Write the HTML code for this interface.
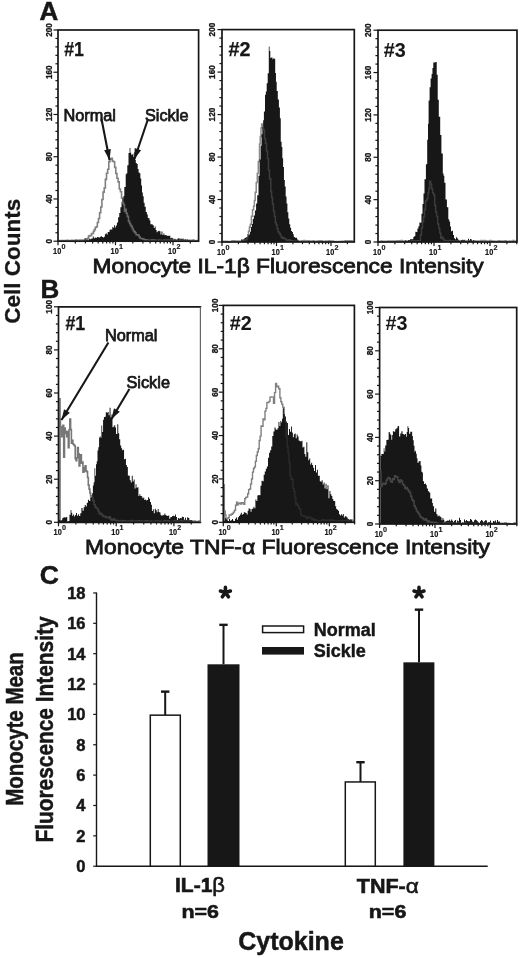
<!DOCTYPE html>
<html><head><meta charset="utf-8"><style>
html,body{margin:0;padding:0;background:#fff;}
body{width:520px;height:958px;overflow:hidden;font-family:"Liberation Sans",sans-serif;}
svg{display:block;filter:grayscale(1);}
</style></head><body>
<svg width="520" height="958" viewBox="0 0 520 958">
<rect width="520" height="958" fill="#fff"/>
<clipPath id="c1"><path d="M84.60,241.2V238.03H85.62V239.94H86.64V239.50H87.67V240.50H88.69V238.78H89.71V239.35H90.73V238.72H91.76V238.60H92.78V236.42H93.80V238.29H94.82V237.52H95.84V237.93H96.87V236.95H97.89V237.33H98.91V237.62H99.93V236.82H100.96V236.34H101.98V237.00H103.00V237.57H103.94V236.63H104.88V234.22H105.82V233.35H106.76V234.61H107.70V232.04H108.62V231.95H109.54V229.77H110.46V229.58H111.38V229.60H112.30V227.04H113.17V227.67H114.05V225.23H114.92V227.43H115.80V225.41H116.95V222.44H118.10V217.29H119.25V212.95H120.40V207.17H121.55V201.92H122.70V198.04H123.50V195.96H124.30V186.93H125.70V174.28H126.50V173.20H127.30V165.24H128.50V153.11H129.60V147.92H130.40V152.83H131.20V154.75H132.60V153.86H133.40V157.12H134.20V152.16H135.00V159.82H135.80V162.89H136.75V164.10H137.70V169.11H138.60V172.53H139.50V173.34H140.35V178.56H141.20V185.56H142.00V192.57H142.80V196.29H143.70V202.83H144.60V206.69H145.75V212.11H146.90V214.42H147.78V217.88H148.65V218.23H149.53V220.48H150.40V224.16H151.53V224.24H152.67V225.29H153.80V227.88H154.74V226.38H155.68V230.04H156.62V232.30H157.56V231.24H158.50V230.74H159.49V231.29H160.47V234.49H161.46V231.44H162.44V235.01H163.43V233.57H164.41V235.18H165.40V235.09H166.39V235.54H167.37V235.90H168.36V235.63H169.34V235.75H170.33V238.27H171.31V237.67H172.30V238.18H173.32V239.72H174.34V238.84H175.37V239.60H176.39V239.81H177.41V238.69H178.43V237.93H179.46V239.30H180.48V238.51H181.50V238.90H182.56V238.62H183.62V239.98H184.69V239.22H185.75V239.88H186.81V239.87H187.88V240.86H188.94V240.41H190.00V240.46V241.2Z"/></clipPath>
<path d="M58.00,240.51H58.99V240.92H59.97V240.83H60.96V240.62H61.94V240.67H62.93V240.62H63.91V240.46H64.90V240.45H65.88V240.79H66.87V240.41H67.85V241.20H68.84V240.57H69.82V240.47H70.81V240.83H71.79V240.25H72.78V240.76H73.76V240.91H74.75V240.35H75.73V240.12H76.72V240.54H77.70V240.27H78.69V240.43H79.67V240.10H80.66V240.36H81.64V240.43H82.63V240.08H83.61V240.28H84.60V240.55H85.59V239.43H86.57V238.74H87.56V238.19H88.54V236.10H89.53V235.58H90.51V235.47H91.50V233.61H92.44V233.52H93.38V231.34H94.32V229.59H95.26V227.46H96.20V226.72H97.33V222.54H98.47V218.49H99.60V212.75H100.75V207.02H101.90V199.46H103.05V192.09H104.20V188.01H105.35V179.36H106.50V173.21H107.65V169.29H108.80V161.67H110.00V159.31H111.20V158.22H112.35V161.12H113.50V161.68H114.65V167.37H115.80V173.57H116.95V178.18H118.10V181.92H119.25V189.06H120.40V191.72H121.55V197.98H122.70V202.92H123.58V204.71H124.45V211.16H125.33V209.32H126.20V213.28H127.33V216.37H128.47V221.39H129.60V223.52H130.52V225.37H131.44V226.62H132.36V228.73H133.28V230.81H134.20V231.92H135.17V232.95H136.13V234.73H137.10V234.86H138.07V235.15H139.03V236.81H140.00V238.20H140.99V238.56H141.97V238.77H142.96V238.88H143.94V239.71H144.93V240.26H145.91V239.84H146.90V240.36H147.90V240.21H148.90V240.38H149.91V240.33H150.91V240.33H151.91V240.06H152.91V240.13H153.91V240.42H154.92V240.35H155.92V240.82H156.92V240.49H157.92V240.49H158.92V240.24H159.93V240.72H160.93V240.58H161.93V240.51H162.93V240.45H163.93V240.19H164.94V240.57H165.94V240.32H166.94V240.44H167.94V240.56H168.94V240.32H169.95V240.76H170.95V240.30H171.95V240.26H172.95V240.68H173.95V240.58H174.95V240.52H175.96V240.57H176.96V240.80H177.96V240.76H178.96V241.07H179.96V240.32H180.97V240.89H181.97V240.48H182.97V240.34H183.97V240.28H184.97V241.03H185.98V239.98H186.98V240.88H187.98V240.20H188.98V240.72H189.98V240.41H190.99V240.32H191.99V240.82H192.99V239.98H193.99V241.04H194.99V240.93H196.00V240.69H197.00V240.60H198.00V240.42" fill="none" stroke="#808080" stroke-width="1.6"/>
<path d="M84.60,241.2V238.03H85.62V239.94H86.64V239.50H87.67V240.50H88.69V238.78H89.71V239.35H90.73V238.72H91.76V238.60H92.78V236.42H93.80V238.29H94.82V237.52H95.84V237.93H96.87V236.95H97.89V237.33H98.91V237.62H99.93V236.82H100.96V236.34H101.98V237.00H103.00V237.57H103.94V236.63H104.88V234.22H105.82V233.35H106.76V234.61H107.70V232.04H108.62V231.95H109.54V229.77H110.46V229.58H111.38V229.60H112.30V227.04H113.17V227.67H114.05V225.23H114.92V227.43H115.80V225.41H116.95V222.44H118.10V217.29H119.25V212.95H120.40V207.17H121.55V201.92H122.70V198.04H123.50V195.96H124.30V186.93H125.70V174.28H126.50V173.20H127.30V165.24H128.50V153.11H129.60V147.92H130.40V152.83H131.20V154.75H132.60V153.86H133.40V157.12H134.20V152.16H135.00V159.82H135.80V162.89H136.75V164.10H137.70V169.11H138.60V172.53H139.50V173.34H140.35V178.56H141.20V185.56H142.00V192.57H142.80V196.29H143.70V202.83H144.60V206.69H145.75V212.11H146.90V214.42H147.78V217.88H148.65V218.23H149.53V220.48H150.40V224.16H151.53V224.24H152.67V225.29H153.80V227.88H154.74V226.38H155.68V230.04H156.62V232.30H157.56V231.24H158.50V230.74H159.49V231.29H160.47V234.49H161.46V231.44H162.44V235.01H163.43V233.57H164.41V235.18H165.40V235.09H166.39V235.54H167.37V235.90H168.36V235.63H169.34V235.75H170.33V238.27H171.31V237.67H172.30V238.18H173.32V239.72H174.34V238.84H175.37V239.60H176.39V239.81H177.41V238.69H178.43V237.93H179.46V239.30H180.48V238.51H181.50V238.90H182.56V238.62H183.62V239.98H184.69V239.22H185.75V239.88H186.81V239.87H187.88V240.86H188.94V240.41H190.00V240.46V241.2Z" fill="#171717"/>
<path d="M58.00,240.51H58.99V240.92H59.97V240.83H60.96V240.62H61.94V240.67H62.93V240.62H63.91V240.46H64.90V240.45H65.88V240.79H66.87V240.41H67.85V241.20H68.84V240.57H69.82V240.47H70.81V240.83H71.79V240.25H72.78V240.76H73.76V240.91H74.75V240.35H75.73V240.12H76.72V240.54H77.70V240.27H78.69V240.43H79.67V240.10H80.66V240.36H81.64V240.43H82.63V240.08H83.61V240.28H84.60V240.55H85.59V239.43H86.57V238.74H87.56V238.19H88.54V236.10H89.53V235.58H90.51V235.47H91.50V233.61H92.44V233.52H93.38V231.34H94.32V229.59H95.26V227.46H96.20V226.72H97.33V222.54H98.47V218.49H99.60V212.75H100.75V207.02H101.90V199.46H103.05V192.09H104.20V188.01H105.35V179.36H106.50V173.21H107.65V169.29H108.80V161.67H110.00V159.31H111.20V158.22H112.35V161.12H113.50V161.68H114.65V167.37H115.80V173.57H116.95V178.18H118.10V181.92H119.25V189.06H120.40V191.72H121.55V197.98H122.70V202.92H123.58V204.71H124.45V211.16H125.33V209.32H126.20V213.28H127.33V216.37H128.47V221.39H129.60V223.52H130.52V225.37H131.44V226.62H132.36V228.73H133.28V230.81H134.20V231.92H135.17V232.95H136.13V234.73H137.10V234.86H138.07V235.15H139.03V236.81H140.00V238.20H140.99V238.56H141.97V238.77H142.96V238.88H143.94V239.71H144.93V240.26H145.91V239.84H146.90V240.36H147.90V240.21H148.90V240.38H149.91V240.33H150.91V240.33H151.91V240.06H152.91V240.13H153.91V240.42H154.92V240.35H155.92V240.82H156.92V240.49H157.92V240.49H158.92V240.24H159.93V240.72H160.93V240.58H161.93V240.51H162.93V240.45H163.93V240.19H164.94V240.57H165.94V240.32H166.94V240.44H167.94V240.56H168.94V240.32H169.95V240.76H170.95V240.30H171.95V240.26H172.95V240.68H173.95V240.58H174.95V240.52H175.96V240.57H176.96V240.80H177.96V240.76H178.96V241.07H179.96V240.32H180.97V240.89H181.97V240.48H182.97V240.34H183.97V240.28H184.97V241.03H185.98V239.98H186.98V240.88H187.98V240.20H188.98V240.72H189.98V240.41H190.99V240.32H191.99V240.82H192.99V239.98H193.99V241.04H194.99V240.93H196.00V240.69H197.00V240.60H198.00V240.42" fill="none" stroke="#666666" stroke-width="1.6" clip-path="url(#c1)"/>
<clipPath id="c2"><path d="M241.00,242V239.50H241.87V239.64H242.73V240.11H243.60V238.78H244.67V238.08H245.73V237.33H246.80V237.39H247.87V235.27H248.93V234.56H250.00V231.69H250.95V227.06H251.90V223.93H252.85V219.12H253.80V215.39H254.93V210.40H256.07V203.59H257.20V195.21H258.50V175.74H259.60V159.50H260.70V145.69H261.55V134.33H262.40V127.35H263.15V120.33H263.90V111.57H265.00V94.67H265.85V91.60H266.70V83.13H267.70V73.25H268.80V46.55H269.55V50.98H270.30V58.05H271.35V57.35H272.40V59.24H273.15V58.33H273.90V58.69H275.20V73.12H275.95V81.65H276.70V91.05H277.80V99.55H278.90V107.40H279.90V118.27H280.75V141.74H281.60V147.00H282.35V158.19H283.10V167.07H283.95V180.10H284.80V186.58H285.67V196.44H286.53V203.57H287.40V212.27H288.33V218.56H289.27V224.14H290.20V227.82H291.10V230.91H292.00V231.90H292.90V234.23H293.80V237.00H294.88V237.63H295.95V237.80H297.03V239.51H298.10V240.85H299.08V241.13H300.05V242.00H301.02V241.66H302.00V240.98V242Z"/></clipPath>
<path d="M222.00,241.61H223.00V241.37H224.00V241.43H225.00V241.46H226.00V241.27H227.00V241.74H228.00V241.46H229.00V241.77H230.00V241.56H231.00V241.26H232.00V240.78H233.00V241.25H234.00V240.82H235.00V241.15H236.00V241.00H237.00V241.15H238.00V241.11H239.00V240.99H240.00V241.14H241.00V241.02H242.00V240.40H243.00V240.26H244.00V240.53H245.00V239.58H246.00V239.68H247.00V238.12H247.75V234.66H248.50V231.13H249.40V226.98H250.30V224.17H251.40V216.35H252.50V209.74H253.60V206.34H254.40V200.48H255.20V192.23H256.23V182.55H257.27V173.44H258.30V161.54H259.50V144.07H260.25V136.56H261.00V128.01H261.70V123.96H262.60V128.02H263.50V130.01H264.50V138.59H265.50V143.22H266.50V151.08H267.50V158.46H268.50V170.21H269.50V178.69H270.80V191.83H271.65V197.55H272.50V204.14H273.47V210.93H274.43V216.38H275.40V222.71H276.27V225.06H277.13V228.79H278.00V231.67H279.00V233.08H280.00V234.87H281.00V236.99H282.00V238.13H283.00V237.44H284.00V238.79H285.00V238.82H286.00V239.94H287.00V240.22H288.00V240.92H289.00V239.77H290.00V240.40H291.00V241.07H292.00V240.66H293.00V240.96H294.00V241.03H295.00V241.00H296.00V240.94H297.00V241.42H298.00V240.92H299.00V241.23H300.00V241.34H301.00V241.04H302.00V240.84H303.00V240.89H304.00V240.61H305.00V241.16H306.00V241.03H307.00V240.80H308.00V240.83H309.00V241.28H310.00V241.08H311.00V241.21H312.00V241.48H313.00V240.68H314.00V241.33H315.00V241.25H316.00V241.24H317.00V241.09H318.00V241.12H319.00V240.82H320.00V241.29H321.00V240.66H322.00V241.32H323.00V241.48H324.00V241.13H325.00V241.27H326.00V241.11H327.00V241.31H328.00V241.26H329.00V240.86H330.00V241.28H331.00V241.19H332.00V241.06H333.00V241.24H334.00V241.71H335.00V241.84H336.00V241.39H337.00V241.53H338.00V241.49H339.00V241.46H340.00V241.39H341.00V241.25H342.00V241.16H343.00V241.23H344.00V241.37H345.00V240.81H346.00V240.67H347.00V241.31H348.00V241.12H349.00V240.73H350.00V241.18H351.00V240.73H352.00V241.42H353.00V241.34H354.00V241.25" fill="none" stroke="#8a8a8a" stroke-width="1.5"/>
<path d="M241.00,242V239.50H241.87V239.64H242.73V240.11H243.60V238.78H244.67V238.08H245.73V237.33H246.80V237.39H247.87V235.27H248.93V234.56H250.00V231.69H250.95V227.06H251.90V223.93H252.85V219.12H253.80V215.39H254.93V210.40H256.07V203.59H257.20V195.21H258.50V175.74H259.60V159.50H260.70V145.69H261.55V134.33H262.40V127.35H263.15V120.33H263.90V111.57H265.00V94.67H265.85V91.60H266.70V83.13H267.70V73.25H268.80V46.55H269.55V50.98H270.30V58.05H271.35V57.35H272.40V59.24H273.15V58.33H273.90V58.69H275.20V73.12H275.95V81.65H276.70V91.05H277.80V99.55H278.90V107.40H279.90V118.27H280.75V141.74H281.60V147.00H282.35V158.19H283.10V167.07H283.95V180.10H284.80V186.58H285.67V196.44H286.53V203.57H287.40V212.27H288.33V218.56H289.27V224.14H290.20V227.82H291.10V230.91H292.00V231.90H292.90V234.23H293.80V237.00H294.88V237.63H295.95V237.80H297.03V239.51H298.10V240.85H299.08V241.13H300.05V242.00H301.02V241.66H302.00V240.98V242Z" fill="#171717"/>
<path d="M222.00,241.61H223.00V241.37H224.00V241.43H225.00V241.46H226.00V241.27H227.00V241.74H228.00V241.46H229.00V241.77H230.00V241.56H231.00V241.26H232.00V240.78H233.00V241.25H234.00V240.82H235.00V241.15H236.00V241.00H237.00V241.15H238.00V241.11H239.00V240.99H240.00V241.14H241.00V241.02H242.00V240.40H243.00V240.26H244.00V240.53H245.00V239.58H246.00V239.68H247.00V238.12H247.75V234.66H248.50V231.13H249.40V226.98H250.30V224.17H251.40V216.35H252.50V209.74H253.60V206.34H254.40V200.48H255.20V192.23H256.23V182.55H257.27V173.44H258.30V161.54H259.50V144.07H260.25V136.56H261.00V128.01H261.70V123.96H262.60V128.02H263.50V130.01H264.50V138.59H265.50V143.22H266.50V151.08H267.50V158.46H268.50V170.21H269.50V178.69H270.80V191.83H271.65V197.55H272.50V204.14H273.47V210.93H274.43V216.38H275.40V222.71H276.27V225.06H277.13V228.79H278.00V231.67H279.00V233.08H280.00V234.87H281.00V236.99H282.00V238.13H283.00V237.44H284.00V238.79H285.00V238.82H286.00V239.94H287.00V240.22H288.00V240.92H289.00V239.77H290.00V240.40H291.00V241.07H292.00V240.66H293.00V240.96H294.00V241.03H295.00V241.00H296.00V240.94H297.00V241.42H298.00V240.92H299.00V241.23H300.00V241.34H301.00V241.04H302.00V240.84H303.00V240.89H304.00V240.61H305.00V241.16H306.00V241.03H307.00V240.80H308.00V240.83H309.00V241.28H310.00V241.08H311.00V241.21H312.00V241.48H313.00V240.68H314.00V241.33H315.00V241.25H316.00V241.24H317.00V241.09H318.00V241.12H319.00V240.82H320.00V241.29H321.00V240.66H322.00V241.32H323.00V241.48H324.00V241.13H325.00V241.27H326.00V241.11H327.00V241.31H328.00V241.26H329.00V240.86H330.00V241.28H331.00V241.19H332.00V241.06H333.00V241.24H334.00V241.71H335.00V241.84H336.00V241.39H337.00V241.53H338.00V241.49H339.00V241.46H340.00V241.39H341.00V241.25H342.00V241.16H343.00V241.23H344.00V241.37H345.00V240.81H346.00V240.67H347.00V241.31H348.00V241.12H349.00V240.73H350.00V241.18H351.00V240.73H352.00V241.42H353.00V241.34H354.00V241.25" fill="none" stroke="#3c3c3c" stroke-width="1.5" clip-path="url(#c2)"/>
<clipPath id="c3"><path d="M403.00,242V241.19H404.05V242.00H405.10V240.52H406.15V241.11H407.20V241.39H408.22V239.96H409.23V240.34H410.25V238.93H411.27V239.34H412.28V239.37H413.30V237.05H414.32V236.00H415.35V231.84H416.38V232.08H417.40V228.46H418.40V226.17H419.40V222.49H420.40V222.71H421.45V213.72H422.50V203.96H423.50V193.43H424.50V179.13H425.90V164.30H427.20V139.76H428.00V123.85H428.60V100.50H429.60V87.25H430.60V78.59H431.60V74.09H432.45V68.01H433.30V62.45H434.70V62.34H435.70V61.91H436.70V74.79H437.70V99.67H438.80V116.80H440.20V135.04H441.40V153.41H442.80V173.44H443.55V175.71H444.30V182.87H445.50V199.38H446.90V207.24H448.30V219.33H449.20V221.40H450.10V226.47H451.00V231.22H452.00V230.70H453.00V235.10H454.00V238.33H455.02V239.30H456.05V237.17H457.08V238.58H458.10V240.22H459.09V240.89H460.08V242.00H461.06V240.33H462.05V239.71H463.04V240.32H464.02V240.37H465.01V240.88H466.00V241.22H467.00V242.00H468.00V238.64H469.00V240.69H470.00V238.97H471.00V239.49H472.00V241.74H473.00V240.29H474.00V241.88H475.00V241.35H476.00V242.00H477.00V241.71H478.00V241.36H479.00V242.00H480.00V242.00V242Z"/></clipPath>
<path d="M378.00,241.69H379.01V241.48H380.02V241.75H381.03V241.02H382.04V241.78H383.05V241.13H384.06V241.28H385.07V241.56H386.08V241.28H387.09V241.26H388.10V241.02H389.11V240.98H390.12V241.05H391.13V241.57H392.14V241.04H393.15V241.37H394.16V241.01H395.17V240.97H396.18V241.32H397.19V240.71H398.20V241.15H399.20V240.69H400.21V241.30H401.22V240.38H402.23V241.10H403.24V241.09H404.25V241.30H405.26V240.89H406.27V241.39H407.28V240.95H408.29V241.41H409.30V240.93H410.31V241.07H411.32V240.77H412.33V240.68H413.34V240.63H414.35V241.03H415.36V241.07H416.37V240.64H417.38V240.96H418.39V240.67H419.40V240.77H420.43V234.95H421.47V227.89H422.50V221.79H423.50V216.68H424.50V209.40H425.50V200.99H426.75V198.67H428.00V192.83H428.80V188.62H429.60V181.19H430.60V183.94H431.60V189.02H432.65V192.91H433.70V195.00H434.70V205.39H435.70V212.15H436.70V216.39H437.70V223.98H438.73V228.56H439.77V233.09H440.80V238.16H441.82V236.99H442.85V239.05H443.88V240.31H444.90V240.40H445.90V240.83H446.90V240.69H447.90V240.87H448.91V240.44H449.91V241.06H450.91V240.89H451.91V240.86H452.91V240.90H453.91V240.97H454.91V240.95H455.92V240.73H456.92V240.75H457.92V240.62H458.92V240.82H459.92V241.02H460.92V240.87H461.92V241.20H462.92V241.09H463.93V240.41H464.93V240.98H465.93V241.13H466.93V240.75H467.93V240.87H468.93V240.65H469.93V240.80H470.94V240.91H471.94V241.17H472.94V241.03H473.94V240.65H474.94V240.89H475.94V241.17H476.94V241.09H477.95V240.93H478.95V240.95H479.95V241.10H480.95V240.62H481.95V241.39H482.95V240.79H483.95V240.62H484.96V240.78H485.96V241.10H486.96V241.02H487.96V241.13H488.96V240.88H489.96V240.45H490.96V241.37H491.97V241.04H492.97V240.97H493.97V241.37H494.97V241.20H495.97V241.23H496.97V241.24H497.97V241.01H498.98V240.68H499.98V241.28H500.98V241.44H501.98V241.10H502.98V241.42H503.98V241.17H504.98V240.75H505.98V241.21H506.99V241.37H507.99V241.17H508.99V241.41H509.99V241.11H510.99V241.19H511.99V241.18H512.99V240.60H514.00V241.29H515.00V241.26H516.00V241.06H517.00V241.22" fill="none" stroke="#8a8a8a" stroke-width="1.5"/>
<path d="M403.00,242V241.19H404.05V242.00H405.10V240.52H406.15V241.11H407.20V241.39H408.22V239.96H409.23V240.34H410.25V238.93H411.27V239.34H412.28V239.37H413.30V237.05H414.32V236.00H415.35V231.84H416.38V232.08H417.40V228.46H418.40V226.17H419.40V222.49H420.40V222.71H421.45V213.72H422.50V203.96H423.50V193.43H424.50V179.13H425.90V164.30H427.20V139.76H428.00V123.85H428.60V100.50H429.60V87.25H430.60V78.59H431.60V74.09H432.45V68.01H433.30V62.45H434.70V62.34H435.70V61.91H436.70V74.79H437.70V99.67H438.80V116.80H440.20V135.04H441.40V153.41H442.80V173.44H443.55V175.71H444.30V182.87H445.50V199.38H446.90V207.24H448.30V219.33H449.20V221.40H450.10V226.47H451.00V231.22H452.00V230.70H453.00V235.10H454.00V238.33H455.02V239.30H456.05V237.17H457.08V238.58H458.10V240.22H459.09V240.89H460.08V242.00H461.06V240.33H462.05V239.71H463.04V240.32H464.02V240.37H465.01V240.88H466.00V241.22H467.00V242.00H468.00V238.64H469.00V240.69H470.00V238.97H471.00V239.49H472.00V241.74H473.00V240.29H474.00V241.88H475.00V241.35H476.00V242.00H477.00V241.71H478.00V241.36H479.00V242.00H480.00V242.00V242Z" fill="#171717"/>
<path d="M378.00,241.69H379.01V241.48H380.02V241.75H381.03V241.02H382.04V241.78H383.05V241.13H384.06V241.28H385.07V241.56H386.08V241.28H387.09V241.26H388.10V241.02H389.11V240.98H390.12V241.05H391.13V241.57H392.14V241.04H393.15V241.37H394.16V241.01H395.17V240.97H396.18V241.32H397.19V240.71H398.20V241.15H399.20V240.69H400.21V241.30H401.22V240.38H402.23V241.10H403.24V241.09H404.25V241.30H405.26V240.89H406.27V241.39H407.28V240.95H408.29V241.41H409.30V240.93H410.31V241.07H411.32V240.77H412.33V240.68H413.34V240.63H414.35V241.03H415.36V241.07H416.37V240.64H417.38V240.96H418.39V240.67H419.40V240.77H420.43V234.95H421.47V227.89H422.50V221.79H423.50V216.68H424.50V209.40H425.50V200.99H426.75V198.67H428.00V192.83H428.80V188.62H429.60V181.19H430.60V183.94H431.60V189.02H432.65V192.91H433.70V195.00H434.70V205.39H435.70V212.15H436.70V216.39H437.70V223.98H438.73V228.56H439.77V233.09H440.80V238.16H441.82V236.99H442.85V239.05H443.88V240.31H444.90V240.40H445.90V240.83H446.90V240.69H447.90V240.87H448.91V240.44H449.91V241.06H450.91V240.89H451.91V240.86H452.91V240.90H453.91V240.97H454.91V240.95H455.92V240.73H456.92V240.75H457.92V240.62H458.92V240.82H459.92V241.02H460.92V240.87H461.92V241.20H462.92V241.09H463.93V240.41H464.93V240.98H465.93V241.13H466.93V240.75H467.93V240.87H468.93V240.65H469.93V240.80H470.94V240.91H471.94V241.17H472.94V241.03H473.94V240.65H474.94V240.89H475.94V241.17H476.94V241.09H477.95V240.93H478.95V240.95H479.95V241.10H480.95V240.62H481.95V241.39H482.95V240.79H483.95V240.62H484.96V240.78H485.96V241.10H486.96V241.02H487.96V241.13H488.96V240.88H489.96V240.45H490.96V241.37H491.97V241.04H492.97V240.97H493.97V241.37H494.97V241.20H495.97V241.23H496.97V241.24H497.97V241.01H498.98V240.68H499.98V241.28H500.98V241.44H501.98V241.10H502.98V241.42H503.98V241.17H504.98V240.75H505.98V241.21H506.99V241.37H507.99V241.17H508.99V241.41H509.99V241.11H510.99V241.19H511.99V241.18H512.99V240.60H514.00V241.29H515.00V241.26H516.00V241.06H517.00V241.22" fill="none" stroke="#3c3c3c" stroke-width="1.5" clip-path="url(#c3)"/>
<line x1="60" y1="398" x2="60" y2="521" stroke="#707070" stroke-width="1.6"/>
<clipPath id="c4"><path d="M59.00,522V520.12H60.07V520.48H61.13V520.34H62.20V518.14H63.20V517.51H64.20V517.20H65.20V517.40H66.23V517.10H67.27V521.67H68.30V520.89H69.45V514.76H70.60V509.98H71.40V512.76H72.20V515.77H73.15V514.50H74.10V516.62H75.05V515.01H76.00V512.93H77.03V515.69H78.07V514.18H79.10V515.89H80.25V513.27H81.40V507.89H82.55V510.67H83.70V507.13H84.73V505.02H85.77V506.44H86.80V502.71H87.95V499.71H89.10V501.05H90.25V497.23H91.40V497.43H92.15V493.20H92.90V485.45H93.70V482.36H94.50V468.18H95.25V475.73H96.00V464.36H96.75V461.37H97.50V450.46H98.30V447.30H99.10V437.55H99.85V436.26H100.60V437.72H101.40V425.47H102.20V432.03H103.07V419.67H103.93V416.88H104.80V416.73H105.80V412.14H106.80V412.70H107.73V411.96H108.67V415.32H109.60V407.64H110.55V417.62H111.50V414.43H112.47V427.35H113.43V426.40H114.40V425.04H115.20V427.39H116.00V434.01H117.30V424.16H118.25V433.33H119.20V439.37H120.20V445.47H121.20V448.30H122.15V450.13H123.10V449.76H124.05V459.26H125.00V458.75H125.95V464.92H126.90V466.99H127.85V475.57H128.80V475.73H129.80V480.15H130.80V482.58H131.77V475.64H132.73V481.45H133.70V479.38H134.63V488.54H135.57V484.25H136.50V487.72H137.47V487.28H138.43V495.88H139.40V494.23H140.37V496.11H141.33V496.28H142.30V498.36H143.28V497.61H144.25V500.06H145.22V499.53H146.20V500.57H147.13V499.88H148.07V497.29H149.00V498.75H150.00V502.02H151.00V504.87H151.93V510.89H152.87V509.15H153.80V513.22H154.78V508.63H155.75V510.24H156.72V512.37H157.70V509.11H158.65V511.94H159.60V512.61H160.55V514.97H161.50V516.07H162.47V514.80H163.43V515.36H164.40V513.44H165.37V514.93H166.33V515.80H167.30V516.08H168.27V515.49H169.23V518.78H170.20V517.36H171.17V517.10H172.13V516.09H173.10V515.66H174.06V516.17H175.03V514.57H175.99V517.04H176.95V519.93H177.91V518.04H178.88V518.65H179.84V518.04H180.80V518.19H181.84V516.82H182.88V516.88H183.92V519.64H184.96V517.74H186.00V520.15H187.10V517.22H188.20V517.97H189.30V519.90H190.40V520.56H191.27V519.90H192.13V521.77H193.00V522.00V522Z"/></clipPath>
<path d="M59.50,419.04H60.45V426.71H61.40V436.79H62.15V429.12H62.90V425.25H63.70V457.09H64.50V428.15H65.25V431.41H66.00V433.52H66.75V436.64H67.50V431.45H68.30V447.69H69.05V429.70H69.80V418.99H70.60V429.62H71.40V443.27H72.15V440.36H72.90V443.93H73.70V444.76H74.50V446.06H75.25V458.71H76.00V460.67H76.75V457.77H77.50V447.66H78.30V453.90H79.10V465.89H79.85V458.54H80.60V454.70H81.40V463.23H82.20V462.00H82.95V472.11H83.70V471.61H84.45V467.55H85.20V465.78H86.00V470.92H86.80V471.69H87.55V477.49H88.30V485.13H89.10V489.11H89.85V493.07H90.60V495.84H91.75V497.26H92.90V500.75H94.05V504.69H95.20V507.16H96.35V508.04H97.50V509.55H98.44V511.81H99.38V513.87H100.32V513.33H101.26V514.07H102.20V515.52H103.22V516.50H104.23V516.40H105.25V517.11H106.27V517.48H107.28V517.38H108.30V517.93H109.32V516.81H110.34V519.09H111.37V520.08H112.39V519.69H113.41V518.88H114.43V520.12H115.46V520.42H116.48V521.28H117.50V520.65H118.46V521.03H119.42V521.48H120.39V521.24H121.35V520.53H122.31V521.18H123.28V520.74H124.24V520.74H125.20V521.62H126.20V521.25H127.19V521.59H128.19V521.04H129.19V521.94H130.19V521.17H131.18V520.64H132.18V521.42H133.18V521.76H134.18V521.09H135.17V521.01H136.17V521.15H137.17V521.06H138.17V520.80H139.16V521.00H140.16V521.43H141.16V521.12H142.15V521.30H143.15V521.75H144.15V521.18H145.15V520.96H146.14V520.74H147.14V520.93H148.14V522.00H149.14V521.76H150.13V520.95H151.13V521.21H152.13V521.50H153.13V521.88H154.12V521.43H155.12V521.05H156.12V521.36H157.11V521.07H158.11V521.27H159.11V521.00H160.11V521.21H161.10V521.50H162.10V521.65H163.10V521.71H164.10V520.47H165.09V521.06H166.09V521.29H167.09V521.61H168.09V520.86H169.08V521.79H170.08V521.64H171.08V521.67H172.07V521.49H173.07V521.66H174.07V521.03H175.07V520.87H176.06V521.41H177.06V521.24H178.06V521.62H179.06V521.44H180.05V521.11H181.05V520.63H182.05V521.13H183.05V521.30H184.04V520.96H185.04V521.47H186.04V521.27H187.03V521.01H188.03V521.37H189.03V520.86H190.03V521.04H191.02V521.04H192.02V521.68H193.02V521.88H194.02V521.14H195.01V521.60H196.01V521.49H197.01V521.58H198.01V521.69H199.00V521.00H200.00V520.89" fill="none" stroke="#777777" stroke-width="1.6"/>
<path d="M59.00,522V520.12H60.07V520.48H61.13V520.34H62.20V518.14H63.20V517.51H64.20V517.20H65.20V517.40H66.23V517.10H67.27V521.67H68.30V520.89H69.45V514.76H70.60V509.98H71.40V512.76H72.20V515.77H73.15V514.50H74.10V516.62H75.05V515.01H76.00V512.93H77.03V515.69H78.07V514.18H79.10V515.89H80.25V513.27H81.40V507.89H82.55V510.67H83.70V507.13H84.73V505.02H85.77V506.44H86.80V502.71H87.95V499.71H89.10V501.05H90.25V497.23H91.40V497.43H92.15V493.20H92.90V485.45H93.70V482.36H94.50V468.18H95.25V475.73H96.00V464.36H96.75V461.37H97.50V450.46H98.30V447.30H99.10V437.55H99.85V436.26H100.60V437.72H101.40V425.47H102.20V432.03H103.07V419.67H103.93V416.88H104.80V416.73H105.80V412.14H106.80V412.70H107.73V411.96H108.67V415.32H109.60V407.64H110.55V417.62H111.50V414.43H112.47V427.35H113.43V426.40H114.40V425.04H115.20V427.39H116.00V434.01H117.30V424.16H118.25V433.33H119.20V439.37H120.20V445.47H121.20V448.30H122.15V450.13H123.10V449.76H124.05V459.26H125.00V458.75H125.95V464.92H126.90V466.99H127.85V475.57H128.80V475.73H129.80V480.15H130.80V482.58H131.77V475.64H132.73V481.45H133.70V479.38H134.63V488.54H135.57V484.25H136.50V487.72H137.47V487.28H138.43V495.88H139.40V494.23H140.37V496.11H141.33V496.28H142.30V498.36H143.28V497.61H144.25V500.06H145.22V499.53H146.20V500.57H147.13V499.88H148.07V497.29H149.00V498.75H150.00V502.02H151.00V504.87H151.93V510.89H152.87V509.15H153.80V513.22H154.78V508.63H155.75V510.24H156.72V512.37H157.70V509.11H158.65V511.94H159.60V512.61H160.55V514.97H161.50V516.07H162.47V514.80H163.43V515.36H164.40V513.44H165.37V514.93H166.33V515.80H167.30V516.08H168.27V515.49H169.23V518.78H170.20V517.36H171.17V517.10H172.13V516.09H173.10V515.66H174.06V516.17H175.03V514.57H175.99V517.04H176.95V519.93H177.91V518.04H178.88V518.65H179.84V518.04H180.80V518.19H181.84V516.82H182.88V516.88H183.92V519.64H184.96V517.74H186.00V520.15H187.10V517.22H188.20V517.97H189.30V519.90H190.40V520.56H191.27V519.90H192.13V521.77H193.00V522.00V522Z" fill="#171717"/>
<path d="M59.50,419.04H60.45V426.71H61.40V436.79H62.15V429.12H62.90V425.25H63.70V457.09H64.50V428.15H65.25V431.41H66.00V433.52H66.75V436.64H67.50V431.45H68.30V447.69H69.05V429.70H69.80V418.99H70.60V429.62H71.40V443.27H72.15V440.36H72.90V443.93H73.70V444.76H74.50V446.06H75.25V458.71H76.00V460.67H76.75V457.77H77.50V447.66H78.30V453.90H79.10V465.89H79.85V458.54H80.60V454.70H81.40V463.23H82.20V462.00H82.95V472.11H83.70V471.61H84.45V467.55H85.20V465.78H86.00V470.92H86.80V471.69H87.55V477.49H88.30V485.13H89.10V489.11H89.85V493.07H90.60V495.84H91.75V497.26H92.90V500.75H94.05V504.69H95.20V507.16H96.35V508.04H97.50V509.55H98.44V511.81H99.38V513.87H100.32V513.33H101.26V514.07H102.20V515.52H103.22V516.50H104.23V516.40H105.25V517.11H106.27V517.48H107.28V517.38H108.30V517.93H109.32V516.81H110.34V519.09H111.37V520.08H112.39V519.69H113.41V518.88H114.43V520.12H115.46V520.42H116.48V521.28H117.50V520.65H118.46V521.03H119.42V521.48H120.39V521.24H121.35V520.53H122.31V521.18H123.28V520.74H124.24V520.74H125.20V521.62H126.20V521.25H127.19V521.59H128.19V521.04H129.19V521.94H130.19V521.17H131.18V520.64H132.18V521.42H133.18V521.76H134.18V521.09H135.17V521.01H136.17V521.15H137.17V521.06H138.17V520.80H139.16V521.00H140.16V521.43H141.16V521.12H142.15V521.30H143.15V521.75H144.15V521.18H145.15V520.96H146.14V520.74H147.14V520.93H148.14V522.00H149.14V521.76H150.13V520.95H151.13V521.21H152.13V521.50H153.13V521.88H154.12V521.43H155.12V521.05H156.12V521.36H157.11V521.07H158.11V521.27H159.11V521.00H160.11V521.21H161.10V521.50H162.10V521.65H163.10V521.71H164.10V520.47H165.09V521.06H166.09V521.29H167.09V521.61H168.09V520.86H169.08V521.79H170.08V521.64H171.08V521.67H172.07V521.49H173.07V521.66H174.07V521.03H175.07V520.87H176.06V521.41H177.06V521.24H178.06V521.62H179.06V521.44H180.05V521.11H181.05V520.63H182.05V521.13H183.05V521.30H184.04V520.96H185.04V521.47H186.04V521.27H187.03V521.01H188.03V521.37H189.03V520.86H190.03V521.04H191.02V521.04H192.02V521.68H193.02V521.88H194.02V521.14H195.01V521.60H196.01V521.49H197.01V521.58H198.01V521.69H199.00V521.00H200.00V520.89" fill="none" stroke="#3c3c3c" stroke-width="1.6" clip-path="url(#c4)"/>
<line x1="224.4" y1="484" x2="224.4" y2="521" stroke="#8a8a8a" stroke-width="1.3"/>
<clipPath id="c5"><path d="M224.00,522.3V520.73H225.00V518.26H226.00V519.59H227.00V520.15H228.00V521.10H229.00V519.06H230.00V520.87H231.00V520.15H232.00V518.92H233.00V520.74H234.00V520.93H235.00V518.72H235.98V517.44H236.96V519.68H237.93V517.24H238.91V515.92H239.89V514.49H240.87V512.76H241.84V514.63H242.82V514.10H243.80V512.17H244.77V512.59H245.73V512.88H246.70V514.62H247.67V510.70H248.63V508.32H249.60V509.03H250.57V511.80H251.53V509.02H252.50V508.41H253.47V506.80H254.43V508.27H255.40V499.54H256.37V500.98H257.33V495.50H258.30V495.09H259.38V495.28H260.45V485.85H261.53V480.84H262.60V481.35H263.68V474.72H264.75V471.47H265.82V468.84H266.90V466.40H267.97V457.74H269.05V452.87H270.12V450.16H271.20V446.48H272.30V436.10H273.40V431.47H274.50V427.46H275.60V429.46H276.55V429.68H277.50V428.15H278.45V421.88H279.40V426.12H280.35V421.04H281.30V422.58H282.05V418.75H282.80V408.26H283.83V413.89H284.86V416.92H285.89V421.97H286.91V423.07H287.94V434.95H288.97V428.88H290.00V431.69H290.96V426.47H291.91V432.45H292.87V437.15H293.82V434.27H294.78V433.44H295.73V438.35H296.69V434.49H297.64V436.44H298.60V440.45H299.57V441.04H300.53V441.51H301.50V440.72H302.47V447.62H303.43V446.63H304.40V454.04H305.37V456.86H306.33V442.16H307.30V452.25H308.27V460.32H309.23V458.41H310.20V464.57H311.17V462.83H312.13V465.07H313.10V467.75H314.07V470.90H315.03V465.03H316.00V472.42H316.95V469.80H317.90V475.80H318.85V475.67H319.80V481.26H320.75V481.68H321.70V480.13H322.67V484.61H323.63V482.40H324.60V488.39H325.57V483.71H326.53V489.28H327.50V485.37H328.47V498.17H329.43V490.93H330.40V494.35H331.37V496.12H332.33V499.02H333.30V501.08H334.25V501.10H335.20V506.29H336.15V509.05H337.10V509.81H338.05V510.69H339.00V514.16H339.97V515.41H340.93V514.13H341.90V515.48H342.87V514.03H343.83V517.40H344.80V516.26H345.77V516.53H346.73V517.43H347.70V519.09H348.77V520.07H349.85V519.86H350.93V519.99H352.00V522.05V522.3Z"/></clipPath>
<path d="M224.50,511.07H225.25V515.08H226.00V519.53H227.05V518.48H228.10V517.69H229.15V514.96H230.20V515.07H231.25V514.24H232.30V513.57H233.38V512.16H234.45V510.30H235.53V505.19H236.60V502.20H237.63V504.74H238.66V503.42H239.69V502.90H240.71V503.96H241.74V502.77H242.77V502.70H243.80V504.36H244.77V498.82H245.73V497.39H246.70V497.15H247.67V493.77H248.63V489.64H249.60V489.00H250.57V483.93H251.53V478.94H252.50V472.14H253.47V468.52H254.43V466.85H255.40V461.23H256.35V455.54H257.30V452.07H258.25V448.81H259.20V440.48H260.15V436.08H261.10V425.98H262.07V426.34H263.03V418.87H264.00V419.86H264.97V411.15H265.93V408.35H266.90V402.55H267.93V402.57H268.97V401.39H270.00V397.09H271.20V396.85H272.35V396.92H273.50V403.40H274.55V392.59H275.60V383.39H276.55V386.72H277.50V386.19H278.70V388.74H279.90V397.78H280.87V401.70H281.83V404.26H282.80V407.41H284.20V416.77H285.17V421.72H286.13V436.78H287.10V446.56H288.07V453.17H289.03V462.86H290.00V475.80H290.97V479.55H291.93V479.02H292.90V488.37H293.87V491.27H294.83V497.74H295.80V504.72H296.75V503.38H297.70V505.60H298.65V508.17H299.60V508.89H300.55V513.88H301.50V515.85H302.54V515.91H303.57V516.39H304.61V516.22H305.64V517.10H306.68V518.52H307.71V517.32H308.75V517.02H309.79V517.91H310.82V518.00H311.86V519.59H312.89V518.70H313.93V520.22H314.96V519.60H316.00V520.12H317.00V520.81H318.00V520.81H319.00V521.46H320.00V520.91H321.00V521.55H322.00V520.06H323.00V519.58H324.00V520.61H325.00V520.32H326.00V521.29H327.00V520.31H328.00V520.33H329.00V521.54H330.00V519.70H331.00V520.52H332.00V521.17H333.00V520.15H334.00V520.39H335.00V520.94H336.00V521.37H337.00V521.83H338.00V520.58H339.00V520.87H340.00V521.66H341.00V520.63H342.00V520.36H343.00V521.83H344.00V520.64H345.00V520.68H346.00V520.51H347.00V521.22H348.00V519.58H349.00V521.54H350.00V522.30H351.00V519.68H352.00V521.07H353.00V521.31H354.00V520.19" fill="none" stroke="#808080" stroke-width="1.4"/>
<path d="M224.00,522.3V520.73H225.00V518.26H226.00V519.59H227.00V520.15H228.00V521.10H229.00V519.06H230.00V520.87H231.00V520.15H232.00V518.92H233.00V520.74H234.00V520.93H235.00V518.72H235.98V517.44H236.96V519.68H237.93V517.24H238.91V515.92H239.89V514.49H240.87V512.76H241.84V514.63H242.82V514.10H243.80V512.17H244.77V512.59H245.73V512.88H246.70V514.62H247.67V510.70H248.63V508.32H249.60V509.03H250.57V511.80H251.53V509.02H252.50V508.41H253.47V506.80H254.43V508.27H255.40V499.54H256.37V500.98H257.33V495.50H258.30V495.09H259.38V495.28H260.45V485.85H261.53V480.84H262.60V481.35H263.68V474.72H264.75V471.47H265.82V468.84H266.90V466.40H267.97V457.74H269.05V452.87H270.12V450.16H271.20V446.48H272.30V436.10H273.40V431.47H274.50V427.46H275.60V429.46H276.55V429.68H277.50V428.15H278.45V421.88H279.40V426.12H280.35V421.04H281.30V422.58H282.05V418.75H282.80V408.26H283.83V413.89H284.86V416.92H285.89V421.97H286.91V423.07H287.94V434.95H288.97V428.88H290.00V431.69H290.96V426.47H291.91V432.45H292.87V437.15H293.82V434.27H294.78V433.44H295.73V438.35H296.69V434.49H297.64V436.44H298.60V440.45H299.57V441.04H300.53V441.51H301.50V440.72H302.47V447.62H303.43V446.63H304.40V454.04H305.37V456.86H306.33V442.16H307.30V452.25H308.27V460.32H309.23V458.41H310.20V464.57H311.17V462.83H312.13V465.07H313.10V467.75H314.07V470.90H315.03V465.03H316.00V472.42H316.95V469.80H317.90V475.80H318.85V475.67H319.80V481.26H320.75V481.68H321.70V480.13H322.67V484.61H323.63V482.40H324.60V488.39H325.57V483.71H326.53V489.28H327.50V485.37H328.47V498.17H329.43V490.93H330.40V494.35H331.37V496.12H332.33V499.02H333.30V501.08H334.25V501.10H335.20V506.29H336.15V509.05H337.10V509.81H338.05V510.69H339.00V514.16H339.97V515.41H340.93V514.13H341.90V515.48H342.87V514.03H343.83V517.40H344.80V516.26H345.77V516.53H346.73V517.43H347.70V519.09H348.77V520.07H349.85V519.86H350.93V519.99H352.00V522.05V522.3Z" fill="#171717"/>
<path d="M224.50,511.07H225.25V515.08H226.00V519.53H227.05V518.48H228.10V517.69H229.15V514.96H230.20V515.07H231.25V514.24H232.30V513.57H233.38V512.16H234.45V510.30H235.53V505.19H236.60V502.20H237.63V504.74H238.66V503.42H239.69V502.90H240.71V503.96H241.74V502.77H242.77V502.70H243.80V504.36H244.77V498.82H245.73V497.39H246.70V497.15H247.67V493.77H248.63V489.64H249.60V489.00H250.57V483.93H251.53V478.94H252.50V472.14H253.47V468.52H254.43V466.85H255.40V461.23H256.35V455.54H257.30V452.07H258.25V448.81H259.20V440.48H260.15V436.08H261.10V425.98H262.07V426.34H263.03V418.87H264.00V419.86H264.97V411.15H265.93V408.35H266.90V402.55H267.93V402.57H268.97V401.39H270.00V397.09H271.20V396.85H272.35V396.92H273.50V403.40H274.55V392.59H275.60V383.39H276.55V386.72H277.50V386.19H278.70V388.74H279.90V397.78H280.87V401.70H281.83V404.26H282.80V407.41H284.20V416.77H285.17V421.72H286.13V436.78H287.10V446.56H288.07V453.17H289.03V462.86H290.00V475.80H290.97V479.55H291.93V479.02H292.90V488.37H293.87V491.27H294.83V497.74H295.80V504.72H296.75V503.38H297.70V505.60H298.65V508.17H299.60V508.89H300.55V513.88H301.50V515.85H302.54V515.91H303.57V516.39H304.61V516.22H305.64V517.10H306.68V518.52H307.71V517.32H308.75V517.02H309.79V517.91H310.82V518.00H311.86V519.59H312.89V518.70H313.93V520.22H314.96V519.60H316.00V520.12H317.00V520.81H318.00V520.81H319.00V521.46H320.00V520.91H321.00V521.55H322.00V520.06H323.00V519.58H324.00V520.61H325.00V520.32H326.00V521.29H327.00V520.31H328.00V520.33H329.00V521.54H330.00V519.70H331.00V520.52H332.00V521.17H333.00V520.15H334.00V520.39H335.00V520.94H336.00V521.37H337.00V521.83H338.00V520.58H339.00V520.87H340.00V521.66H341.00V520.63H342.00V520.36H343.00V521.83H344.00V520.64H345.00V520.68H346.00V520.51H347.00V521.22H348.00V519.58H349.00V521.54H350.00V522.30H351.00V519.68H352.00V521.07H353.00V521.31H354.00V520.19" fill="none" stroke="#2c2c2c" stroke-width="1.4" clip-path="url(#c5)"/>
<clipPath id="c6"><path d="M380.50,524V456.12H381.40V453.91H382.55V454.06H383.70V448.20H384.45V451.43H385.20V445.46H386.35V439.92H387.50V439.64H388.65V432.03H389.80V433.86H390.60V435.06H391.40V439.74H392.15V435.02H392.90V431.30H394.05V431.85H395.20V429.18H396.35V428.33H397.50V426.33H398.30V426.07H399.10V436.45H400.25V433.54H401.40V431.23H402.55V433.99H403.70V434.68H404.85V434.06H406.00V436.74H406.75V431.99H407.50V426.36H408.30V427.89H409.10V433.74H410.25V431.85H411.40V431.87H412.15V435.98H412.90V440.19H413.70V445.80H414.50V451.74H415.25V450.72H416.00V453.86H416.75V458.31H417.50V462.75H418.65V461.33H419.80V461.00H420.60V465.57H421.40V471.78H422.15V472.48H422.90V481.32H424.05V483.88H425.20V483.50H426.00V485.11H426.80V488.48H427.95V491.34H429.10V492.49H430.25V498.55H431.40V498.45H432.15V503.07H432.90V506.20H434.05V511.85H435.20V508.58H436.35V514.36H437.50V516.13H438.53V515.56H439.57V516.48H440.60V517.22H441.52V520.25H442.44V518.08H443.36V519.64H444.28V521.76H445.20V521.54H446.19V521.02H447.17V520.53H448.16V520.80H449.15V519.81H450.13V521.24H451.12V519.51H452.11V520.70H453.09V522.37H454.08V520.65H455.07V520.09H456.05V523.79H457.04V520.39H458.03V521.20H459.01V517.65H460.00V520.09H461.00V523.26H462.00V522.51H463.00V522.85H464.00V519.53H465.00V521.31H466.00V519.89H467.00V521.12H468.00V521.15H469.00V521.19H470.00V518.88H471.00V519.64H472.00V521.40H473.00V521.90H474.00V520.34H475.00V519.46H476.00V520.28H477.00V521.14H478.00V522.49H479.00V523.36H480.00V521.34H481.00V520.08H482.00V520.86H483.00V522.14H484.00V521.21H485.00V520.32H486.00V520.42H487.00V523.67H488.00V522.18H489.00V522.28H490.00V520.52H491.00V523.23H492.00V524.00H493.00V521.07H494.00V521.62H495.00V520.58H496.00V522.82H497.00V520.03H498.00V521.66H499.00V521.61H500.00V521.98V524Z"/></clipPath>
<path d="M380.60,471.16H381.00V486.45H382.00V484.24H383.00V483.31H384.10V484.16H385.20V483.63H386.23V480.32H387.27V478.40H388.30V477.48H389.33V478.81H390.37V481.25H391.40V482.30H392.43V478.73H393.47V479.60H394.50V475.83H395.65V476.71H396.80V476.91H397.95V480.55H399.10V482.54H400.25V480.06H401.40V481.16H402.55V484.14H403.70V485.46H404.85V488.53H406.00V487.57H407.15V489.29H408.30V491.08H409.45V492.49H410.60V496.24H411.75V499.54H412.90V501.11H414.05V505.71H415.20V507.89H416.35V510.82H417.50V512.32H418.53V513.69H419.57V515.81H420.60V517.35H421.52V517.68H422.44V518.17H423.36V519.56H424.28V520.02H425.20V518.74H426.23V520.27H427.27V521.94H428.30V521.08H429.33V522.10H430.37V522.02H431.40V522.13H432.36V522.29H433.31V522.75H434.27V522.62H435.22V522.58H436.18V523.11H437.13V523.28H438.09V523.41H439.04V523.43H440.00V523.55H441.00V523.92H442.00V523.70H443.00V523.17H444.00V522.83H445.00V523.81H446.00V523.40H447.00V523.26H448.00V523.03H449.00V523.80H450.00V524.00H451.00V523.41H452.00V523.08H453.00V523.61H454.00V523.59H455.00V523.19H456.00V523.42H457.00V523.07H458.00V523.24H459.00V523.44H460.00V523.64H461.00V523.23H462.00V523.66H463.00V523.20H464.00V523.96H465.00V523.21H466.00V523.50H467.00V523.95H468.00V523.48H469.00V523.89H470.00V523.62H471.00V523.76H472.00V523.56H473.00V523.13H474.00V523.42H475.00V523.66H476.00V523.29H477.00V523.19H478.00V523.43H479.00V523.66H480.00V523.73H481.00V523.67H482.00V523.14H483.00V523.31H484.00V523.81H485.00V523.35H486.00V523.35H487.00V523.46H488.00V523.25H489.00V523.31H490.00V523.23H491.00V523.23H492.00V523.93H493.00V523.84H494.00V523.70H495.00V523.32H496.00V523.19H497.00V523.86H498.00V523.77H499.00V523.81H500.00V523.37H501.00V523.45H502.00V523.15H503.00V524.00H504.00V523.43H505.00V522.82H506.00V523.49H507.00V523.57H508.00V524.00H509.00V523.54H510.00V523.70H511.00V523.76H512.00V523.98H513.00V523.95H514.00V522.91H515.00V523.48H516.00V523.64" fill="none" stroke="#808080" stroke-width="1.5"/>
<path d="M380.50,524V456.12H381.40V453.91H382.55V454.06H383.70V448.20H384.45V451.43H385.20V445.46H386.35V439.92H387.50V439.64H388.65V432.03H389.80V433.86H390.60V435.06H391.40V439.74H392.15V435.02H392.90V431.30H394.05V431.85H395.20V429.18H396.35V428.33H397.50V426.33H398.30V426.07H399.10V436.45H400.25V433.54H401.40V431.23H402.55V433.99H403.70V434.68H404.85V434.06H406.00V436.74H406.75V431.99H407.50V426.36H408.30V427.89H409.10V433.74H410.25V431.85H411.40V431.87H412.15V435.98H412.90V440.19H413.70V445.80H414.50V451.74H415.25V450.72H416.00V453.86H416.75V458.31H417.50V462.75H418.65V461.33H419.80V461.00H420.60V465.57H421.40V471.78H422.15V472.48H422.90V481.32H424.05V483.88H425.20V483.50H426.00V485.11H426.80V488.48H427.95V491.34H429.10V492.49H430.25V498.55H431.40V498.45H432.15V503.07H432.90V506.20H434.05V511.85H435.20V508.58H436.35V514.36H437.50V516.13H438.53V515.56H439.57V516.48H440.60V517.22H441.52V520.25H442.44V518.08H443.36V519.64H444.28V521.76H445.20V521.54H446.19V521.02H447.17V520.53H448.16V520.80H449.15V519.81H450.13V521.24H451.12V519.51H452.11V520.70H453.09V522.37H454.08V520.65H455.07V520.09H456.05V523.79H457.04V520.39H458.03V521.20H459.01V517.65H460.00V520.09H461.00V523.26H462.00V522.51H463.00V522.85H464.00V519.53H465.00V521.31H466.00V519.89H467.00V521.12H468.00V521.15H469.00V521.19H470.00V518.88H471.00V519.64H472.00V521.40H473.00V521.90H474.00V520.34H475.00V519.46H476.00V520.28H477.00V521.14H478.00V522.49H479.00V523.36H480.00V521.34H481.00V520.08H482.00V520.86H483.00V522.14H484.00V521.21H485.00V520.32H486.00V520.42H487.00V523.67H488.00V522.18H489.00V522.28H490.00V520.52H491.00V523.23H492.00V524.00H493.00V521.07H494.00V521.62H495.00V520.58H496.00V522.82H497.00V520.03H498.00V521.66H499.00V521.61H500.00V521.98V524Z" fill="#171717"/>
<path d="M380.60,471.16H381.00V486.45H382.00V484.24H383.00V483.31H384.10V484.16H385.20V483.63H386.23V480.32H387.27V478.40H388.30V477.48H389.33V478.81H390.37V481.25H391.40V482.30H392.43V478.73H393.47V479.60H394.50V475.83H395.65V476.71H396.80V476.91H397.95V480.55H399.10V482.54H400.25V480.06H401.40V481.16H402.55V484.14H403.70V485.46H404.85V488.53H406.00V487.57H407.15V489.29H408.30V491.08H409.45V492.49H410.60V496.24H411.75V499.54H412.90V501.11H414.05V505.71H415.20V507.89H416.35V510.82H417.50V512.32H418.53V513.69H419.57V515.81H420.60V517.35H421.52V517.68H422.44V518.17H423.36V519.56H424.28V520.02H425.20V518.74H426.23V520.27H427.27V521.94H428.30V521.08H429.33V522.10H430.37V522.02H431.40V522.13H432.36V522.29H433.31V522.75H434.27V522.62H435.22V522.58H436.18V523.11H437.13V523.28H438.09V523.41H439.04V523.43H440.00V523.55H441.00V523.92H442.00V523.70H443.00V523.17H444.00V522.83H445.00V523.81H446.00V523.40H447.00V523.26H448.00V523.03H449.00V523.80H450.00V524.00H451.00V523.41H452.00V523.08H453.00V523.61H454.00V523.59H455.00V523.19H456.00V523.42H457.00V523.07H458.00V523.24H459.00V523.44H460.00V523.64H461.00V523.23H462.00V523.66H463.00V523.20H464.00V523.96H465.00V523.21H466.00V523.50H467.00V523.95H468.00V523.48H469.00V523.89H470.00V523.62H471.00V523.76H472.00V523.56H473.00V523.13H474.00V523.42H475.00V523.66H476.00V523.29H477.00V523.19H478.00V523.43H479.00V523.66H480.00V523.73H481.00V523.67H482.00V523.14H483.00V523.31H484.00V523.81H485.00V523.35H486.00V523.35H487.00V523.46H488.00V523.25H489.00V523.31H490.00V523.23H491.00V523.23H492.00V523.93H493.00V523.84H494.00V523.70H495.00V523.32H496.00V523.19H497.00V523.86H498.00V523.77H499.00V523.81H500.00V523.37H501.00V523.45H502.00V523.15H503.00V524.00H504.00V523.43H505.00V522.82H506.00V523.49H507.00V523.57H508.00V524.00H509.00V523.54H510.00V523.70H511.00V523.76H512.00V523.98H513.00V523.95H514.00V522.91H515.00V523.48H516.00V523.64" fill="none" stroke="#454545" stroke-width="1.5" clip-path="url(#c6)"/>
<rect x="58" y="30" width="140.6" height="211.2" fill="none" stroke="#171717" stroke-width="1.7"/>
<line x1="53.50" y1="241.20" x2="58" y2="241.20" stroke="#171717" stroke-width="1.2"/>
<line x1="55.40" y1="232.75" x2="58" y2="232.75" stroke="#171717" stroke-width="1.2"/>
<line x1="55.40" y1="224.30" x2="58" y2="224.30" stroke="#171717" stroke-width="1.2"/>
<line x1="55.40" y1="215.86" x2="58" y2="215.86" stroke="#171717" stroke-width="1.2"/>
<line x1="55.40" y1="207.41" x2="58" y2="207.41" stroke="#171717" stroke-width="1.2"/>
<line x1="53.50" y1="198.96" x2="58" y2="198.96" stroke="#171717" stroke-width="1.2"/>
<line x1="55.40" y1="190.51" x2="58" y2="190.51" stroke="#171717" stroke-width="1.2"/>
<line x1="55.40" y1="182.06" x2="58" y2="182.06" stroke="#171717" stroke-width="1.2"/>
<line x1="55.40" y1="173.62" x2="58" y2="173.62" stroke="#171717" stroke-width="1.2"/>
<line x1="55.40" y1="165.17" x2="58" y2="165.17" stroke="#171717" stroke-width="1.2"/>
<line x1="53.50" y1="156.72" x2="58" y2="156.72" stroke="#171717" stroke-width="1.2"/>
<line x1="55.40" y1="148.27" x2="58" y2="148.27" stroke="#171717" stroke-width="1.2"/>
<line x1="55.40" y1="139.82" x2="58" y2="139.82" stroke="#171717" stroke-width="1.2"/>
<line x1="55.40" y1="131.38" x2="58" y2="131.38" stroke="#171717" stroke-width="1.2"/>
<line x1="55.40" y1="122.93" x2="58" y2="122.93" stroke="#171717" stroke-width="1.2"/>
<line x1="53.50" y1="114.48" x2="58" y2="114.48" stroke="#171717" stroke-width="1.2"/>
<line x1="55.40" y1="106.03" x2="58" y2="106.03" stroke="#171717" stroke-width="1.2"/>
<line x1="55.40" y1="97.58" x2="58" y2="97.58" stroke="#171717" stroke-width="1.2"/>
<line x1="55.40" y1="89.14" x2="58" y2="89.14" stroke="#171717" stroke-width="1.2"/>
<line x1="55.40" y1="80.69" x2="58" y2="80.69" stroke="#171717" stroke-width="1.2"/>
<line x1="53.50" y1="72.24" x2="58" y2="72.24" stroke="#171717" stroke-width="1.2"/>
<line x1="55.40" y1="63.79" x2="58" y2="63.79" stroke="#171717" stroke-width="1.2"/>
<line x1="55.40" y1="55.34" x2="58" y2="55.34" stroke="#171717" stroke-width="1.2"/>
<line x1="55.40" y1="46.90" x2="58" y2="46.90" stroke="#171717" stroke-width="1.2"/>
<line x1="55.40" y1="38.45" x2="58" y2="38.45" stroke="#171717" stroke-width="1.2"/>
<line x1="53.50" y1="30.00" x2="58" y2="30.00" stroke="#171717" stroke-width="1.2"/>
<text transform="translate(48.8,241.20) rotate(-90)" text-anchor="middle" dy="2.9" font-size="8.2" font-weight="bold" font-family="Liberation Sans, sans-serif" fill="#171717" stroke="#171717" stroke-width="0.3">0</text>
<text transform="translate(48.8,198.96) rotate(-90)" text-anchor="middle" dy="2.9" font-size="8.2" font-weight="bold" font-family="Liberation Sans, sans-serif" fill="#171717" stroke="#171717" stroke-width="0.3">40</text>
<text transform="translate(48.8,156.72) rotate(-90)" text-anchor="middle" dy="2.9" font-size="8.2" font-weight="bold" font-family="Liberation Sans, sans-serif" fill="#171717" stroke="#171717" stroke-width="0.3">80</text>
<text transform="translate(48.8,114.48) rotate(-90)" text-anchor="middle" dy="2.9" font-size="8.2" font-weight="bold" font-family="Liberation Sans, sans-serif" fill="#171717" stroke="#171717" stroke-width="0.3">120</text>
<text transform="translate(48.8,72.24) rotate(-90)" text-anchor="middle" dy="2.9" font-size="8.2" font-weight="bold" font-family="Liberation Sans, sans-serif" fill="#171717" stroke="#171717" stroke-width="0.3">160</text>
<text transform="translate(48.8,30.00) rotate(-90)" text-anchor="middle" dy="2.9" font-size="8.2" font-weight="bold" font-family="Liberation Sans, sans-serif" fill="#171717" stroke="#171717" stroke-width="0.3">200</text>
<line x1="58.00" y1="241.2" x2="58.00" y2="245.2" stroke="#171717" stroke-width="1.2"/>
<line x1="75.31" y1="241.2" x2="75.31" y2="243.39999999999998" stroke="#171717" stroke-width="1.2"/>
<line x1="85.43" y1="241.2" x2="85.43" y2="243.39999999999998" stroke="#171717" stroke-width="1.2"/>
<line x1="92.62" y1="241.2" x2="92.62" y2="243.39999999999998" stroke="#171717" stroke-width="1.2"/>
<line x1="98.19" y1="241.2" x2="98.19" y2="243.39999999999998" stroke="#171717" stroke-width="1.2"/>
<line x1="102.74" y1="241.2" x2="102.74" y2="243.39999999999998" stroke="#171717" stroke-width="1.2"/>
<line x1="106.59" y1="241.2" x2="106.59" y2="243.39999999999998" stroke="#171717" stroke-width="1.2"/>
<line x1="109.93" y1="241.2" x2="109.93" y2="243.39999999999998" stroke="#171717" stroke-width="1.2"/>
<line x1="112.87" y1="241.2" x2="112.87" y2="243.39999999999998" stroke="#171717" stroke-width="1.2"/>
<text x="57.20" y="254.00" text-anchor="middle" font-size="9.4" font-weight="bold" font-family="Liberation Sans, sans-serif" fill="#171717" stroke="#171717" stroke-width="0.2" textLength="8.2" lengthAdjust="spacingAndGlyphs">10</text>
<text x="61.40" y="248.80" font-size="7.2" font-weight="bold" font-family="Liberation Sans, sans-serif" fill="#171717" stroke="#171717" stroke-width="0.15">0</text>
<line x1="115.50" y1="241.2" x2="115.50" y2="245.2" stroke="#171717" stroke-width="1.2"/>
<line x1="132.81" y1="241.2" x2="132.81" y2="243.39999999999998" stroke="#171717" stroke-width="1.2"/>
<line x1="142.93" y1="241.2" x2="142.93" y2="243.39999999999998" stroke="#171717" stroke-width="1.2"/>
<line x1="150.12" y1="241.2" x2="150.12" y2="243.39999999999998" stroke="#171717" stroke-width="1.2"/>
<line x1="155.69" y1="241.2" x2="155.69" y2="243.39999999999998" stroke="#171717" stroke-width="1.2"/>
<line x1="160.24" y1="241.2" x2="160.24" y2="243.39999999999998" stroke="#171717" stroke-width="1.2"/>
<line x1="164.09" y1="241.2" x2="164.09" y2="243.39999999999998" stroke="#171717" stroke-width="1.2"/>
<line x1="167.43" y1="241.2" x2="167.43" y2="243.39999999999998" stroke="#171717" stroke-width="1.2"/>
<line x1="170.37" y1="241.2" x2="170.37" y2="243.39999999999998" stroke="#171717" stroke-width="1.2"/>
<text x="114.70" y="254.00" text-anchor="middle" font-size="9.4" font-weight="bold" font-family="Liberation Sans, sans-serif" fill="#171717" stroke="#171717" stroke-width="0.2" textLength="8.2" lengthAdjust="spacingAndGlyphs">10</text>
<text x="118.90" y="248.80" font-size="7.2" font-weight="bold" font-family="Liberation Sans, sans-serif" fill="#171717" stroke="#171717" stroke-width="0.15">1</text>
<line x1="173.00" y1="241.2" x2="173.00" y2="245.2" stroke="#171717" stroke-width="1.2"/>
<line x1="190.31" y1="241.2" x2="190.31" y2="243.39999999999998" stroke="#171717" stroke-width="1.2"/>
<text x="172.20" y="254.00" text-anchor="middle" font-size="9.4" font-weight="bold" font-family="Liberation Sans, sans-serif" fill="#171717" stroke="#171717" stroke-width="0.2" textLength="8.2" lengthAdjust="spacingAndGlyphs">10</text>
<text x="176.40" y="248.80" font-size="7.2" font-weight="bold" font-family="Liberation Sans, sans-serif" fill="#171717" stroke="#171717" stroke-width="0.15">2</text>
<rect x="222" y="29.6" width="132.3" height="212.4" fill="none" stroke="#171717" stroke-width="1.7"/>
<line x1="217.50" y1="242.00" x2="222" y2="242.00" stroke="#171717" stroke-width="1.2"/>
<line x1="219.40" y1="233.50" x2="222" y2="233.50" stroke="#171717" stroke-width="1.2"/>
<line x1="219.40" y1="225.01" x2="222" y2="225.01" stroke="#171717" stroke-width="1.2"/>
<line x1="219.40" y1="216.51" x2="222" y2="216.51" stroke="#171717" stroke-width="1.2"/>
<line x1="219.40" y1="208.02" x2="222" y2="208.02" stroke="#171717" stroke-width="1.2"/>
<line x1="217.50" y1="199.52" x2="222" y2="199.52" stroke="#171717" stroke-width="1.2"/>
<line x1="219.40" y1="191.02" x2="222" y2="191.02" stroke="#171717" stroke-width="1.2"/>
<line x1="219.40" y1="182.53" x2="222" y2="182.53" stroke="#171717" stroke-width="1.2"/>
<line x1="219.40" y1="174.03" x2="222" y2="174.03" stroke="#171717" stroke-width="1.2"/>
<line x1="219.40" y1="165.54" x2="222" y2="165.54" stroke="#171717" stroke-width="1.2"/>
<line x1="217.50" y1="157.04" x2="222" y2="157.04" stroke="#171717" stroke-width="1.2"/>
<line x1="219.40" y1="148.54" x2="222" y2="148.54" stroke="#171717" stroke-width="1.2"/>
<line x1="219.40" y1="140.05" x2="222" y2="140.05" stroke="#171717" stroke-width="1.2"/>
<line x1="219.40" y1="131.55" x2="222" y2="131.55" stroke="#171717" stroke-width="1.2"/>
<line x1="219.40" y1="123.06" x2="222" y2="123.06" stroke="#171717" stroke-width="1.2"/>
<line x1="217.50" y1="114.56" x2="222" y2="114.56" stroke="#171717" stroke-width="1.2"/>
<line x1="219.40" y1="106.06" x2="222" y2="106.06" stroke="#171717" stroke-width="1.2"/>
<line x1="219.40" y1="97.57" x2="222" y2="97.57" stroke="#171717" stroke-width="1.2"/>
<line x1="219.40" y1="89.07" x2="222" y2="89.07" stroke="#171717" stroke-width="1.2"/>
<line x1="219.40" y1="80.58" x2="222" y2="80.58" stroke="#171717" stroke-width="1.2"/>
<line x1="217.50" y1="72.08" x2="222" y2="72.08" stroke="#171717" stroke-width="1.2"/>
<line x1="219.40" y1="63.58" x2="222" y2="63.58" stroke="#171717" stroke-width="1.2"/>
<line x1="219.40" y1="55.09" x2="222" y2="55.09" stroke="#171717" stroke-width="1.2"/>
<line x1="219.40" y1="46.59" x2="222" y2="46.59" stroke="#171717" stroke-width="1.2"/>
<line x1="219.40" y1="38.10" x2="222" y2="38.10" stroke="#171717" stroke-width="1.2"/>
<line x1="217.50" y1="29.60" x2="222" y2="29.60" stroke="#171717" stroke-width="1.2"/>
<text transform="translate(212.2,242.00) rotate(-90)" text-anchor="middle" dy="2.9" font-size="8.2" font-weight="bold" font-family="Liberation Sans, sans-serif" fill="#171717" stroke="#171717" stroke-width="0.3">0</text>
<text transform="translate(212.2,199.52) rotate(-90)" text-anchor="middle" dy="2.9" font-size="8.2" font-weight="bold" font-family="Liberation Sans, sans-serif" fill="#171717" stroke="#171717" stroke-width="0.3">40</text>
<text transform="translate(212.2,157.04) rotate(-90)" text-anchor="middle" dy="2.9" font-size="8.2" font-weight="bold" font-family="Liberation Sans, sans-serif" fill="#171717" stroke="#171717" stroke-width="0.3">80</text>
<text transform="translate(212.2,114.56) rotate(-90)" text-anchor="middle" dy="2.9" font-size="8.2" font-weight="bold" font-family="Liberation Sans, sans-serif" fill="#171717" stroke="#171717" stroke-width="0.3">120</text>
<text transform="translate(212.2,72.08) rotate(-90)" text-anchor="middle" dy="2.9" font-size="8.2" font-weight="bold" font-family="Liberation Sans, sans-serif" fill="#171717" stroke="#171717" stroke-width="0.3">160</text>
<text transform="translate(212.2,29.60) rotate(-90)" text-anchor="middle" dy="2.9" font-size="8.2" font-weight="bold" font-family="Liberation Sans, sans-serif" fill="#171717" stroke="#171717" stroke-width="0.3">200</text>
<line x1="222.00" y1="242" x2="222.00" y2="246" stroke="#171717" stroke-width="1.2"/>
<line x1="238.41" y1="242" x2="238.41" y2="244.2" stroke="#171717" stroke-width="1.2"/>
<line x1="248.00" y1="242" x2="248.00" y2="244.2" stroke="#171717" stroke-width="1.2"/>
<line x1="254.81" y1="242" x2="254.81" y2="244.2" stroke="#171717" stroke-width="1.2"/>
<line x1="260.09" y1="242" x2="260.09" y2="244.2" stroke="#171717" stroke-width="1.2"/>
<line x1="264.41" y1="242" x2="264.41" y2="244.2" stroke="#171717" stroke-width="1.2"/>
<line x1="268.06" y1="242" x2="268.06" y2="244.2" stroke="#171717" stroke-width="1.2"/>
<line x1="271.22" y1="242" x2="271.22" y2="244.2" stroke="#171717" stroke-width="1.2"/>
<line x1="274.01" y1="242" x2="274.01" y2="244.2" stroke="#171717" stroke-width="1.2"/>
<text x="221.20" y="254.80" text-anchor="middle" font-size="9.4" font-weight="bold" font-family="Liberation Sans, sans-serif" fill="#171717" stroke="#171717" stroke-width="0.2" textLength="8.2" lengthAdjust="spacingAndGlyphs">10</text>
<text x="225.40" y="249.60" font-size="7.2" font-weight="bold" font-family="Liberation Sans, sans-serif" fill="#171717" stroke="#171717" stroke-width="0.15">0</text>
<line x1="276.50" y1="242" x2="276.50" y2="246" stroke="#171717" stroke-width="1.2"/>
<line x1="292.91" y1="242" x2="292.91" y2="244.2" stroke="#171717" stroke-width="1.2"/>
<line x1="302.50" y1="242" x2="302.50" y2="244.2" stroke="#171717" stroke-width="1.2"/>
<line x1="309.31" y1="242" x2="309.31" y2="244.2" stroke="#171717" stroke-width="1.2"/>
<line x1="314.59" y1="242" x2="314.59" y2="244.2" stroke="#171717" stroke-width="1.2"/>
<line x1="318.91" y1="242" x2="318.91" y2="244.2" stroke="#171717" stroke-width="1.2"/>
<line x1="322.56" y1="242" x2="322.56" y2="244.2" stroke="#171717" stroke-width="1.2"/>
<line x1="325.72" y1="242" x2="325.72" y2="244.2" stroke="#171717" stroke-width="1.2"/>
<line x1="328.51" y1="242" x2="328.51" y2="244.2" stroke="#171717" stroke-width="1.2"/>
<text x="275.70" y="254.80" text-anchor="middle" font-size="9.4" font-weight="bold" font-family="Liberation Sans, sans-serif" fill="#171717" stroke="#171717" stroke-width="0.2" textLength="8.2" lengthAdjust="spacingAndGlyphs">10</text>
<text x="279.90" y="249.60" font-size="7.2" font-weight="bold" font-family="Liberation Sans, sans-serif" fill="#171717" stroke="#171717" stroke-width="0.15">1</text>
<line x1="331.00" y1="242" x2="331.00" y2="246" stroke="#171717" stroke-width="1.2"/>
<line x1="347.41" y1="242" x2="347.41" y2="244.2" stroke="#171717" stroke-width="1.2"/>
<text x="330.20" y="254.80" text-anchor="middle" font-size="9.4" font-weight="bold" font-family="Liberation Sans, sans-serif" fill="#171717" stroke="#171717" stroke-width="0.2" textLength="8.2" lengthAdjust="spacingAndGlyphs">10</text>
<text x="334.40" y="249.60" font-size="7.2" font-weight="bold" font-family="Liberation Sans, sans-serif" fill="#171717" stroke="#171717" stroke-width="0.15">2</text>
<rect x="378" y="30.2" width="139" height="211.8" fill="none" stroke="#171717" stroke-width="1.7"/>
<line x1="373.50" y1="242.00" x2="378" y2="242.00" stroke="#171717" stroke-width="1.2"/>
<line x1="375.40" y1="233.53" x2="378" y2="233.53" stroke="#171717" stroke-width="1.2"/>
<line x1="375.40" y1="225.06" x2="378" y2="225.06" stroke="#171717" stroke-width="1.2"/>
<line x1="375.40" y1="216.58" x2="378" y2="216.58" stroke="#171717" stroke-width="1.2"/>
<line x1="375.40" y1="208.11" x2="378" y2="208.11" stroke="#171717" stroke-width="1.2"/>
<line x1="373.50" y1="199.64" x2="378" y2="199.64" stroke="#171717" stroke-width="1.2"/>
<line x1="375.40" y1="191.17" x2="378" y2="191.17" stroke="#171717" stroke-width="1.2"/>
<line x1="375.40" y1="182.70" x2="378" y2="182.70" stroke="#171717" stroke-width="1.2"/>
<line x1="375.40" y1="174.22" x2="378" y2="174.22" stroke="#171717" stroke-width="1.2"/>
<line x1="375.40" y1="165.75" x2="378" y2="165.75" stroke="#171717" stroke-width="1.2"/>
<line x1="373.50" y1="157.28" x2="378" y2="157.28" stroke="#171717" stroke-width="1.2"/>
<line x1="375.40" y1="148.81" x2="378" y2="148.81" stroke="#171717" stroke-width="1.2"/>
<line x1="375.40" y1="140.34" x2="378" y2="140.34" stroke="#171717" stroke-width="1.2"/>
<line x1="375.40" y1="131.86" x2="378" y2="131.86" stroke="#171717" stroke-width="1.2"/>
<line x1="375.40" y1="123.39" x2="378" y2="123.39" stroke="#171717" stroke-width="1.2"/>
<line x1="373.50" y1="114.92" x2="378" y2="114.92" stroke="#171717" stroke-width="1.2"/>
<line x1="375.40" y1="106.45" x2="378" y2="106.45" stroke="#171717" stroke-width="1.2"/>
<line x1="375.40" y1="97.98" x2="378" y2="97.98" stroke="#171717" stroke-width="1.2"/>
<line x1="375.40" y1="89.50" x2="378" y2="89.50" stroke="#171717" stroke-width="1.2"/>
<line x1="375.40" y1="81.03" x2="378" y2="81.03" stroke="#171717" stroke-width="1.2"/>
<line x1="373.50" y1="72.56" x2="378" y2="72.56" stroke="#171717" stroke-width="1.2"/>
<line x1="375.40" y1="64.09" x2="378" y2="64.09" stroke="#171717" stroke-width="1.2"/>
<line x1="375.40" y1="55.62" x2="378" y2="55.62" stroke="#171717" stroke-width="1.2"/>
<line x1="375.40" y1="47.14" x2="378" y2="47.14" stroke="#171717" stroke-width="1.2"/>
<line x1="375.40" y1="38.67" x2="378" y2="38.67" stroke="#171717" stroke-width="1.2"/>
<line x1="373.50" y1="30.20" x2="378" y2="30.20" stroke="#171717" stroke-width="1.2"/>
<text transform="translate(368.3,242.00) rotate(-90)" text-anchor="middle" dy="2.9" font-size="8.2" font-weight="bold" font-family="Liberation Sans, sans-serif" fill="#171717" stroke="#171717" stroke-width="0.3">0</text>
<text transform="translate(368.3,199.64) rotate(-90)" text-anchor="middle" dy="2.9" font-size="8.2" font-weight="bold" font-family="Liberation Sans, sans-serif" fill="#171717" stroke="#171717" stroke-width="0.3">40</text>
<text transform="translate(368.3,157.28) rotate(-90)" text-anchor="middle" dy="2.9" font-size="8.2" font-weight="bold" font-family="Liberation Sans, sans-serif" fill="#171717" stroke="#171717" stroke-width="0.3">80</text>
<text transform="translate(368.3,114.92) rotate(-90)" text-anchor="middle" dy="2.9" font-size="8.2" font-weight="bold" font-family="Liberation Sans, sans-serif" fill="#171717" stroke="#171717" stroke-width="0.3">120</text>
<text transform="translate(368.3,72.56) rotate(-90)" text-anchor="middle" dy="2.9" font-size="8.2" font-weight="bold" font-family="Liberation Sans, sans-serif" fill="#171717" stroke="#171717" stroke-width="0.3">160</text>
<text transform="translate(368.3,30.20) rotate(-90)" text-anchor="middle" dy="2.9" font-size="8.2" font-weight="bold" font-family="Liberation Sans, sans-serif" fill="#171717" stroke="#171717" stroke-width="0.3">200</text>
<line x1="378.00" y1="242" x2="378.00" y2="246" stroke="#171717" stroke-width="1.2"/>
<line x1="394.86" y1="242" x2="394.86" y2="244.2" stroke="#171717" stroke-width="1.2"/>
<line x1="404.72" y1="242" x2="404.72" y2="244.2" stroke="#171717" stroke-width="1.2"/>
<line x1="411.72" y1="242" x2="411.72" y2="244.2" stroke="#171717" stroke-width="1.2"/>
<line x1="417.14" y1="242" x2="417.14" y2="244.2" stroke="#171717" stroke-width="1.2"/>
<line x1="421.58" y1="242" x2="421.58" y2="244.2" stroke="#171717" stroke-width="1.2"/>
<line x1="425.33" y1="242" x2="425.33" y2="244.2" stroke="#171717" stroke-width="1.2"/>
<line x1="428.57" y1="242" x2="428.57" y2="244.2" stroke="#171717" stroke-width="1.2"/>
<line x1="431.44" y1="242" x2="431.44" y2="244.2" stroke="#171717" stroke-width="1.2"/>
<text x="377.20" y="254.80" text-anchor="middle" font-size="9.4" font-weight="bold" font-family="Liberation Sans, sans-serif" fill="#171717" stroke="#171717" stroke-width="0.2" textLength="8.2" lengthAdjust="spacingAndGlyphs">10</text>
<text x="381.40" y="249.60" font-size="7.2" font-weight="bold" font-family="Liberation Sans, sans-serif" fill="#171717" stroke="#171717" stroke-width="0.15">0</text>
<line x1="434.00" y1="242" x2="434.00" y2="246" stroke="#171717" stroke-width="1.2"/>
<line x1="450.86" y1="242" x2="450.86" y2="244.2" stroke="#171717" stroke-width="1.2"/>
<line x1="460.72" y1="242" x2="460.72" y2="244.2" stroke="#171717" stroke-width="1.2"/>
<line x1="467.72" y1="242" x2="467.72" y2="244.2" stroke="#171717" stroke-width="1.2"/>
<line x1="473.14" y1="242" x2="473.14" y2="244.2" stroke="#171717" stroke-width="1.2"/>
<line x1="477.58" y1="242" x2="477.58" y2="244.2" stroke="#171717" stroke-width="1.2"/>
<line x1="481.33" y1="242" x2="481.33" y2="244.2" stroke="#171717" stroke-width="1.2"/>
<line x1="484.57" y1="242" x2="484.57" y2="244.2" stroke="#171717" stroke-width="1.2"/>
<line x1="487.44" y1="242" x2="487.44" y2="244.2" stroke="#171717" stroke-width="1.2"/>
<text x="433.20" y="254.80" text-anchor="middle" font-size="9.4" font-weight="bold" font-family="Liberation Sans, sans-serif" fill="#171717" stroke="#171717" stroke-width="0.2" textLength="8.2" lengthAdjust="spacingAndGlyphs">10</text>
<text x="437.40" y="249.60" font-size="7.2" font-weight="bold" font-family="Liberation Sans, sans-serif" fill="#171717" stroke="#171717" stroke-width="0.15">1</text>
<line x1="490.00" y1="242" x2="490.00" y2="246" stroke="#171717" stroke-width="1.2"/>
<line x1="506.86" y1="242" x2="506.86" y2="244.2" stroke="#171717" stroke-width="1.2"/>
<line x1="516.72" y1="242" x2="516.72" y2="244.2" stroke="#171717" stroke-width="1.2"/>
<text x="489.20" y="254.80" text-anchor="middle" font-size="9.4" font-weight="bold" font-family="Liberation Sans, sans-serif" fill="#171717" stroke="#171717" stroke-width="0.2" textLength="8.2" lengthAdjust="spacingAndGlyphs">10</text>
<text x="493.40" y="249.60" font-size="7.2" font-weight="bold" font-family="Liberation Sans, sans-serif" fill="#171717" stroke="#171717" stroke-width="0.15">2</text>
<path d="M200.4,306.8H58.5V522.3H200.4" fill="none" stroke="#171717" stroke-width="1.7" stroke-linecap="square"/>
<line x1="200.4" y1="306.8" x2="200.4" y2="522.3" stroke="#666666" stroke-width="1.2"/>
<line x1="54.00" y1="522.30" x2="58.5" y2="522.30" stroke="#171717" stroke-width="1.2"/>
<line x1="55.90" y1="513.68" x2="58.5" y2="513.68" stroke="#171717" stroke-width="1.2"/>
<line x1="55.90" y1="505.06" x2="58.5" y2="505.06" stroke="#171717" stroke-width="1.2"/>
<line x1="55.90" y1="496.44" x2="58.5" y2="496.44" stroke="#171717" stroke-width="1.2"/>
<line x1="55.90" y1="487.82" x2="58.5" y2="487.82" stroke="#171717" stroke-width="1.2"/>
<line x1="54.00" y1="479.20" x2="58.5" y2="479.20" stroke="#171717" stroke-width="1.2"/>
<line x1="55.90" y1="470.58" x2="58.5" y2="470.58" stroke="#171717" stroke-width="1.2"/>
<line x1="55.90" y1="461.96" x2="58.5" y2="461.96" stroke="#171717" stroke-width="1.2"/>
<line x1="55.90" y1="453.34" x2="58.5" y2="453.34" stroke="#171717" stroke-width="1.2"/>
<line x1="55.90" y1="444.72" x2="58.5" y2="444.72" stroke="#171717" stroke-width="1.2"/>
<line x1="54.00" y1="436.10" x2="58.5" y2="436.10" stroke="#171717" stroke-width="1.2"/>
<line x1="55.90" y1="427.48" x2="58.5" y2="427.48" stroke="#171717" stroke-width="1.2"/>
<line x1="55.90" y1="418.86" x2="58.5" y2="418.86" stroke="#171717" stroke-width="1.2"/>
<line x1="55.90" y1="410.24" x2="58.5" y2="410.24" stroke="#171717" stroke-width="1.2"/>
<line x1="55.90" y1="401.62" x2="58.5" y2="401.62" stroke="#171717" stroke-width="1.2"/>
<line x1="54.00" y1="393.00" x2="58.5" y2="393.00" stroke="#171717" stroke-width="1.2"/>
<line x1="55.90" y1="384.38" x2="58.5" y2="384.38" stroke="#171717" stroke-width="1.2"/>
<line x1="55.90" y1="375.76" x2="58.5" y2="375.76" stroke="#171717" stroke-width="1.2"/>
<line x1="55.90" y1="367.14" x2="58.5" y2="367.14" stroke="#171717" stroke-width="1.2"/>
<line x1="55.90" y1="358.52" x2="58.5" y2="358.52" stroke="#171717" stroke-width="1.2"/>
<line x1="54.00" y1="349.90" x2="58.5" y2="349.90" stroke="#171717" stroke-width="1.2"/>
<line x1="55.90" y1="341.28" x2="58.5" y2="341.28" stroke="#171717" stroke-width="1.2"/>
<line x1="55.90" y1="332.66" x2="58.5" y2="332.66" stroke="#171717" stroke-width="1.2"/>
<line x1="55.90" y1="324.04" x2="58.5" y2="324.04" stroke="#171717" stroke-width="1.2"/>
<line x1="55.90" y1="315.42" x2="58.5" y2="315.42" stroke="#171717" stroke-width="1.2"/>
<line x1="54.00" y1="306.80" x2="58.5" y2="306.80" stroke="#171717" stroke-width="1.2"/>
<text transform="translate(48.6,522.30) rotate(-90)" text-anchor="middle" dy="2.9" font-size="8.2" font-weight="bold" font-family="Liberation Sans, sans-serif" fill="#171717" stroke="#171717" stroke-width="0.3">0</text>
<text transform="translate(48.6,479.20) rotate(-90)" text-anchor="middle" dy="2.9" font-size="8.2" font-weight="bold" font-family="Liberation Sans, sans-serif" fill="#171717" stroke="#171717" stroke-width="0.3">20</text>
<text transform="translate(48.6,436.10) rotate(-90)" text-anchor="middle" dy="2.9" font-size="8.2" font-weight="bold" font-family="Liberation Sans, sans-serif" fill="#171717" stroke="#171717" stroke-width="0.3">40</text>
<text transform="translate(48.6,393.00) rotate(-90)" text-anchor="middle" dy="2.9" font-size="8.2" font-weight="bold" font-family="Liberation Sans, sans-serif" fill="#171717" stroke="#171717" stroke-width="0.3">60</text>
<text transform="translate(48.6,349.90) rotate(-90)" text-anchor="middle" dy="2.9" font-size="8.2" font-weight="bold" font-family="Liberation Sans, sans-serif" fill="#171717" stroke="#171717" stroke-width="0.3">80</text>
<text transform="translate(48.6,306.80) rotate(-90)" text-anchor="middle" dy="2.9" font-size="8.2" font-weight="bold" font-family="Liberation Sans, sans-serif" fill="#171717" stroke="#171717" stroke-width="0.3">100</text>
<line x1="58.50" y1="522.3" x2="58.50" y2="526.3" stroke="#171717" stroke-width="1.2"/>
<line x1="75.87" y1="522.3" x2="75.87" y2="524.5" stroke="#171717" stroke-width="1.2"/>
<line x1="86.03" y1="522.3" x2="86.03" y2="524.5" stroke="#171717" stroke-width="1.2"/>
<line x1="93.24" y1="522.3" x2="93.24" y2="524.5" stroke="#171717" stroke-width="1.2"/>
<line x1="98.83" y1="522.3" x2="98.83" y2="524.5" stroke="#171717" stroke-width="1.2"/>
<line x1="103.40" y1="522.3" x2="103.40" y2="524.5" stroke="#171717" stroke-width="1.2"/>
<line x1="107.26" y1="522.3" x2="107.26" y2="524.5" stroke="#171717" stroke-width="1.2"/>
<line x1="110.61" y1="522.3" x2="110.61" y2="524.5" stroke="#171717" stroke-width="1.2"/>
<line x1="113.56" y1="522.3" x2="113.56" y2="524.5" stroke="#171717" stroke-width="1.2"/>
<text x="57.70" y="535.10" text-anchor="middle" font-size="9.4" font-weight="bold" font-family="Liberation Sans, sans-serif" fill="#171717" stroke="#171717" stroke-width="0.2" textLength="8.2" lengthAdjust="spacingAndGlyphs">10</text>
<text x="61.90" y="529.90" font-size="7.2" font-weight="bold" font-family="Liberation Sans, sans-serif" fill="#171717" stroke="#171717" stroke-width="0.15">0</text>
<line x1="116.20" y1="522.3" x2="116.20" y2="526.3" stroke="#171717" stroke-width="1.2"/>
<line x1="133.57" y1="522.3" x2="133.57" y2="524.5" stroke="#171717" stroke-width="1.2"/>
<line x1="143.73" y1="522.3" x2="143.73" y2="524.5" stroke="#171717" stroke-width="1.2"/>
<line x1="150.94" y1="522.3" x2="150.94" y2="524.5" stroke="#171717" stroke-width="1.2"/>
<line x1="156.53" y1="522.3" x2="156.53" y2="524.5" stroke="#171717" stroke-width="1.2"/>
<line x1="161.10" y1="522.3" x2="161.10" y2="524.5" stroke="#171717" stroke-width="1.2"/>
<line x1="164.96" y1="522.3" x2="164.96" y2="524.5" stroke="#171717" stroke-width="1.2"/>
<line x1="168.31" y1="522.3" x2="168.31" y2="524.5" stroke="#171717" stroke-width="1.2"/>
<line x1="171.26" y1="522.3" x2="171.26" y2="524.5" stroke="#171717" stroke-width="1.2"/>
<text x="115.40" y="535.10" text-anchor="middle" font-size="9.4" font-weight="bold" font-family="Liberation Sans, sans-serif" fill="#171717" stroke="#171717" stroke-width="0.2" textLength="8.2" lengthAdjust="spacingAndGlyphs">10</text>
<text x="119.60" y="529.90" font-size="7.2" font-weight="bold" font-family="Liberation Sans, sans-serif" fill="#171717" stroke="#171717" stroke-width="0.15">1</text>
<line x1="173.90" y1="522.3" x2="173.90" y2="526.3" stroke="#171717" stroke-width="1.2"/>
<line x1="191.27" y1="522.3" x2="191.27" y2="524.5" stroke="#171717" stroke-width="1.2"/>
<text x="173.10" y="535.10" text-anchor="middle" font-size="9.4" font-weight="bold" font-family="Liberation Sans, sans-serif" fill="#171717" stroke="#171717" stroke-width="0.2" textLength="8.2" lengthAdjust="spacingAndGlyphs">10</text>
<text x="177.30" y="529.90" font-size="7.2" font-weight="bold" font-family="Liberation Sans, sans-serif" fill="#171717" stroke="#171717" stroke-width="0.15">2</text>
<rect x="223.3" y="305.4" width="131.09999999999997" height="216.89999999999998" fill="none" stroke="#171717" stroke-width="1.7"/>
<line x1="218.80" y1="522.30" x2="223.3" y2="522.30" stroke="#171717" stroke-width="1.2"/>
<line x1="220.70" y1="513.62" x2="223.3" y2="513.62" stroke="#171717" stroke-width="1.2"/>
<line x1="220.70" y1="504.95" x2="223.3" y2="504.95" stroke="#171717" stroke-width="1.2"/>
<line x1="220.70" y1="496.27" x2="223.3" y2="496.27" stroke="#171717" stroke-width="1.2"/>
<line x1="220.70" y1="487.60" x2="223.3" y2="487.60" stroke="#171717" stroke-width="1.2"/>
<line x1="218.80" y1="478.92" x2="223.3" y2="478.92" stroke="#171717" stroke-width="1.2"/>
<line x1="220.70" y1="470.24" x2="223.3" y2="470.24" stroke="#171717" stroke-width="1.2"/>
<line x1="220.70" y1="461.57" x2="223.3" y2="461.57" stroke="#171717" stroke-width="1.2"/>
<line x1="220.70" y1="452.89" x2="223.3" y2="452.89" stroke="#171717" stroke-width="1.2"/>
<line x1="220.70" y1="444.22" x2="223.3" y2="444.22" stroke="#171717" stroke-width="1.2"/>
<line x1="218.80" y1="435.54" x2="223.3" y2="435.54" stroke="#171717" stroke-width="1.2"/>
<line x1="220.70" y1="426.86" x2="223.3" y2="426.86" stroke="#171717" stroke-width="1.2"/>
<line x1="220.70" y1="418.19" x2="223.3" y2="418.19" stroke="#171717" stroke-width="1.2"/>
<line x1="220.70" y1="409.51" x2="223.3" y2="409.51" stroke="#171717" stroke-width="1.2"/>
<line x1="220.70" y1="400.84" x2="223.3" y2="400.84" stroke="#171717" stroke-width="1.2"/>
<line x1="218.80" y1="392.16" x2="223.3" y2="392.16" stroke="#171717" stroke-width="1.2"/>
<line x1="220.70" y1="383.48" x2="223.3" y2="383.48" stroke="#171717" stroke-width="1.2"/>
<line x1="220.70" y1="374.81" x2="223.3" y2="374.81" stroke="#171717" stroke-width="1.2"/>
<line x1="220.70" y1="366.13" x2="223.3" y2="366.13" stroke="#171717" stroke-width="1.2"/>
<line x1="220.70" y1="357.46" x2="223.3" y2="357.46" stroke="#171717" stroke-width="1.2"/>
<line x1="218.80" y1="348.78" x2="223.3" y2="348.78" stroke="#171717" stroke-width="1.2"/>
<line x1="220.70" y1="340.10" x2="223.3" y2="340.10" stroke="#171717" stroke-width="1.2"/>
<line x1="220.70" y1="331.43" x2="223.3" y2="331.43" stroke="#171717" stroke-width="1.2"/>
<line x1="220.70" y1="322.75" x2="223.3" y2="322.75" stroke="#171717" stroke-width="1.2"/>
<line x1="220.70" y1="314.08" x2="223.3" y2="314.08" stroke="#171717" stroke-width="1.2"/>
<line x1="218.80" y1="305.40" x2="223.3" y2="305.40" stroke="#171717" stroke-width="1.2"/>
<text transform="translate(214.8,522.30) rotate(-90)" text-anchor="middle" dy="2.9" font-size="8.2" font-weight="bold" font-family="Liberation Sans, sans-serif" fill="#171717" stroke="#171717" stroke-width="0.3">0</text>
<text transform="translate(214.8,478.92) rotate(-90)" text-anchor="middle" dy="2.9" font-size="8.2" font-weight="bold" font-family="Liberation Sans, sans-serif" fill="#171717" stroke="#171717" stroke-width="0.3">20</text>
<text transform="translate(214.8,435.54) rotate(-90)" text-anchor="middle" dy="2.9" font-size="8.2" font-weight="bold" font-family="Liberation Sans, sans-serif" fill="#171717" stroke="#171717" stroke-width="0.3">40</text>
<text transform="translate(214.8,392.16) rotate(-90)" text-anchor="middle" dy="2.9" font-size="8.2" font-weight="bold" font-family="Liberation Sans, sans-serif" fill="#171717" stroke="#171717" stroke-width="0.3">60</text>
<text transform="translate(214.8,348.78) rotate(-90)" text-anchor="middle" dy="2.9" font-size="8.2" font-weight="bold" font-family="Liberation Sans, sans-serif" fill="#171717" stroke="#171717" stroke-width="0.3">80</text>
<text transform="translate(214.8,305.40) rotate(-90)" text-anchor="middle" dy="2.9" font-size="8.2" font-weight="bold" font-family="Liberation Sans, sans-serif" fill="#171717" stroke="#171717" stroke-width="0.3">100</text>
<line x1="223.30" y1="522.3" x2="223.30" y2="526.3" stroke="#171717" stroke-width="1.2"/>
<line x1="239.25" y1="522.3" x2="239.25" y2="524.5" stroke="#171717" stroke-width="1.2"/>
<line x1="248.59" y1="522.3" x2="248.59" y2="524.5" stroke="#171717" stroke-width="1.2"/>
<line x1="255.21" y1="522.3" x2="255.21" y2="524.5" stroke="#171717" stroke-width="1.2"/>
<line x1="260.35" y1="522.3" x2="260.35" y2="524.5" stroke="#171717" stroke-width="1.2"/>
<line x1="264.54" y1="522.3" x2="264.54" y2="524.5" stroke="#171717" stroke-width="1.2"/>
<line x1="268.09" y1="522.3" x2="268.09" y2="524.5" stroke="#171717" stroke-width="1.2"/>
<line x1="271.16" y1="522.3" x2="271.16" y2="524.5" stroke="#171717" stroke-width="1.2"/>
<line x1="273.87" y1="522.3" x2="273.87" y2="524.5" stroke="#171717" stroke-width="1.2"/>
<text x="222.50" y="535.10" text-anchor="middle" font-size="9.4" font-weight="bold" font-family="Liberation Sans, sans-serif" fill="#171717" stroke="#171717" stroke-width="0.2" textLength="8.2" lengthAdjust="spacingAndGlyphs">10</text>
<text x="226.70" y="529.90" font-size="7.2" font-weight="bold" font-family="Liberation Sans, sans-serif" fill="#171717" stroke="#171717" stroke-width="0.15">0</text>
<line x1="276.30" y1="522.3" x2="276.30" y2="526.3" stroke="#171717" stroke-width="1.2"/>
<line x1="292.25" y1="522.3" x2="292.25" y2="524.5" stroke="#171717" stroke-width="1.2"/>
<line x1="301.59" y1="522.3" x2="301.59" y2="524.5" stroke="#171717" stroke-width="1.2"/>
<line x1="308.21" y1="522.3" x2="308.21" y2="524.5" stroke="#171717" stroke-width="1.2"/>
<line x1="313.35" y1="522.3" x2="313.35" y2="524.5" stroke="#171717" stroke-width="1.2"/>
<line x1="317.54" y1="522.3" x2="317.54" y2="524.5" stroke="#171717" stroke-width="1.2"/>
<line x1="321.09" y1="522.3" x2="321.09" y2="524.5" stroke="#171717" stroke-width="1.2"/>
<line x1="324.16" y1="522.3" x2="324.16" y2="524.5" stroke="#171717" stroke-width="1.2"/>
<line x1="326.87" y1="522.3" x2="326.87" y2="524.5" stroke="#171717" stroke-width="1.2"/>
<text x="275.50" y="535.10" text-anchor="middle" font-size="9.4" font-weight="bold" font-family="Liberation Sans, sans-serif" fill="#171717" stroke="#171717" stroke-width="0.2" textLength="8.2" lengthAdjust="spacingAndGlyphs">10</text>
<text x="279.70" y="529.90" font-size="7.2" font-weight="bold" font-family="Liberation Sans, sans-serif" fill="#171717" stroke="#171717" stroke-width="0.15">1</text>
<line x1="329.30" y1="522.3" x2="329.30" y2="526.3" stroke="#171717" stroke-width="1.2"/>
<line x1="345.25" y1="522.3" x2="345.25" y2="524.5" stroke="#171717" stroke-width="1.2"/>
<line x1="354.59" y1="522.3" x2="354.59" y2="524.5" stroke="#171717" stroke-width="1.2"/>
<text x="328.50" y="535.10" text-anchor="middle" font-size="9.4" font-weight="bold" font-family="Liberation Sans, sans-serif" fill="#171717" stroke="#171717" stroke-width="0.2" textLength="8.2" lengthAdjust="spacingAndGlyphs">10</text>
<text x="332.70" y="529.90" font-size="7.2" font-weight="bold" font-family="Liberation Sans, sans-serif" fill="#171717" stroke="#171717" stroke-width="0.15">2</text>
<rect x="379.6" y="307.5" width="137.10000000000002" height="216.5" fill="none" stroke="#171717" stroke-width="1.7"/>
<line x1="375.10" y1="524.00" x2="379.6" y2="524.00" stroke="#171717" stroke-width="1.2"/>
<line x1="377.00" y1="515.34" x2="379.6" y2="515.34" stroke="#171717" stroke-width="1.2"/>
<line x1="377.00" y1="506.68" x2="379.6" y2="506.68" stroke="#171717" stroke-width="1.2"/>
<line x1="377.00" y1="498.02" x2="379.6" y2="498.02" stroke="#171717" stroke-width="1.2"/>
<line x1="377.00" y1="489.36" x2="379.6" y2="489.36" stroke="#171717" stroke-width="1.2"/>
<line x1="375.10" y1="480.70" x2="379.6" y2="480.70" stroke="#171717" stroke-width="1.2"/>
<line x1="377.00" y1="472.04" x2="379.6" y2="472.04" stroke="#171717" stroke-width="1.2"/>
<line x1="377.00" y1="463.38" x2="379.6" y2="463.38" stroke="#171717" stroke-width="1.2"/>
<line x1="377.00" y1="454.72" x2="379.6" y2="454.72" stroke="#171717" stroke-width="1.2"/>
<line x1="377.00" y1="446.06" x2="379.6" y2="446.06" stroke="#171717" stroke-width="1.2"/>
<line x1="375.10" y1="437.40" x2="379.6" y2="437.40" stroke="#171717" stroke-width="1.2"/>
<line x1="377.00" y1="428.74" x2="379.6" y2="428.74" stroke="#171717" stroke-width="1.2"/>
<line x1="377.00" y1="420.08" x2="379.6" y2="420.08" stroke="#171717" stroke-width="1.2"/>
<line x1="377.00" y1="411.42" x2="379.6" y2="411.42" stroke="#171717" stroke-width="1.2"/>
<line x1="377.00" y1="402.76" x2="379.6" y2="402.76" stroke="#171717" stroke-width="1.2"/>
<line x1="375.10" y1="394.10" x2="379.6" y2="394.10" stroke="#171717" stroke-width="1.2"/>
<line x1="377.00" y1="385.44" x2="379.6" y2="385.44" stroke="#171717" stroke-width="1.2"/>
<line x1="377.00" y1="376.78" x2="379.6" y2="376.78" stroke="#171717" stroke-width="1.2"/>
<line x1="377.00" y1="368.12" x2="379.6" y2="368.12" stroke="#171717" stroke-width="1.2"/>
<line x1="377.00" y1="359.46" x2="379.6" y2="359.46" stroke="#171717" stroke-width="1.2"/>
<line x1="375.10" y1="350.80" x2="379.6" y2="350.80" stroke="#171717" stroke-width="1.2"/>
<line x1="377.00" y1="342.14" x2="379.6" y2="342.14" stroke="#171717" stroke-width="1.2"/>
<line x1="377.00" y1="333.48" x2="379.6" y2="333.48" stroke="#171717" stroke-width="1.2"/>
<line x1="377.00" y1="324.82" x2="379.6" y2="324.82" stroke="#171717" stroke-width="1.2"/>
<line x1="377.00" y1="316.16" x2="379.6" y2="316.16" stroke="#171717" stroke-width="1.2"/>
<line x1="375.10" y1="307.50" x2="379.6" y2="307.50" stroke="#171717" stroke-width="1.2"/>
<text transform="translate(369.8,524.00) rotate(-90)" text-anchor="middle" dy="2.9" font-size="8.2" font-weight="bold" font-family="Liberation Sans, sans-serif" fill="#171717" stroke="#171717" stroke-width="0.3">0</text>
<text transform="translate(369.8,480.70) rotate(-90)" text-anchor="middle" dy="2.9" font-size="8.2" font-weight="bold" font-family="Liberation Sans, sans-serif" fill="#171717" stroke="#171717" stroke-width="0.3">20</text>
<text transform="translate(369.8,437.40) rotate(-90)" text-anchor="middle" dy="2.9" font-size="8.2" font-weight="bold" font-family="Liberation Sans, sans-serif" fill="#171717" stroke="#171717" stroke-width="0.3">40</text>
<text transform="translate(369.8,394.10) rotate(-90)" text-anchor="middle" dy="2.9" font-size="8.2" font-weight="bold" font-family="Liberation Sans, sans-serif" fill="#171717" stroke="#171717" stroke-width="0.3">60</text>
<text transform="translate(369.8,350.80) rotate(-90)" text-anchor="middle" dy="2.9" font-size="8.2" font-weight="bold" font-family="Liberation Sans, sans-serif" fill="#171717" stroke="#171717" stroke-width="0.3">80</text>
<text transform="translate(369.8,307.50) rotate(-90)" text-anchor="middle" dy="2.9" font-size="8.2" font-weight="bold" font-family="Liberation Sans, sans-serif" fill="#171717" stroke="#171717" stroke-width="0.3">100</text>
<line x1="379.60" y1="524" x2="379.60" y2="528" stroke="#171717" stroke-width="1.2"/>
<line x1="396.28" y1="524" x2="396.28" y2="526.2" stroke="#171717" stroke-width="1.2"/>
<line x1="406.03" y1="524" x2="406.03" y2="526.2" stroke="#171717" stroke-width="1.2"/>
<line x1="412.95" y1="524" x2="412.95" y2="526.2" stroke="#171717" stroke-width="1.2"/>
<line x1="418.32" y1="524" x2="418.32" y2="526.2" stroke="#171717" stroke-width="1.2"/>
<line x1="422.71" y1="524" x2="422.71" y2="526.2" stroke="#171717" stroke-width="1.2"/>
<line x1="426.42" y1="524" x2="426.42" y2="526.2" stroke="#171717" stroke-width="1.2"/>
<line x1="429.63" y1="524" x2="429.63" y2="526.2" stroke="#171717" stroke-width="1.2"/>
<line x1="432.47" y1="524" x2="432.47" y2="526.2" stroke="#171717" stroke-width="1.2"/>
<text x="378.80" y="536.80" text-anchor="middle" font-size="9.4" font-weight="bold" font-family="Liberation Sans, sans-serif" fill="#171717" stroke="#171717" stroke-width="0.2" textLength="8.2" lengthAdjust="spacingAndGlyphs">10</text>
<text x="383.00" y="531.60" font-size="7.2" font-weight="bold" font-family="Liberation Sans, sans-serif" fill="#171717" stroke="#171717" stroke-width="0.15">0</text>
<line x1="435.00" y1="524" x2="435.00" y2="528" stroke="#171717" stroke-width="1.2"/>
<line x1="451.68" y1="524" x2="451.68" y2="526.2" stroke="#171717" stroke-width="1.2"/>
<line x1="461.43" y1="524" x2="461.43" y2="526.2" stroke="#171717" stroke-width="1.2"/>
<line x1="468.35" y1="524" x2="468.35" y2="526.2" stroke="#171717" stroke-width="1.2"/>
<line x1="473.72" y1="524" x2="473.72" y2="526.2" stroke="#171717" stroke-width="1.2"/>
<line x1="478.11" y1="524" x2="478.11" y2="526.2" stroke="#171717" stroke-width="1.2"/>
<line x1="481.82" y1="524" x2="481.82" y2="526.2" stroke="#171717" stroke-width="1.2"/>
<line x1="485.03" y1="524" x2="485.03" y2="526.2" stroke="#171717" stroke-width="1.2"/>
<line x1="487.87" y1="524" x2="487.87" y2="526.2" stroke="#171717" stroke-width="1.2"/>
<text x="434.20" y="536.80" text-anchor="middle" font-size="9.4" font-weight="bold" font-family="Liberation Sans, sans-serif" fill="#171717" stroke="#171717" stroke-width="0.2" textLength="8.2" lengthAdjust="spacingAndGlyphs">10</text>
<text x="438.40" y="531.60" font-size="7.2" font-weight="bold" font-family="Liberation Sans, sans-serif" fill="#171717" stroke="#171717" stroke-width="0.15">1</text>
<line x1="490.40" y1="524" x2="490.40" y2="528" stroke="#171717" stroke-width="1.2"/>
<line x1="507.08" y1="524" x2="507.08" y2="526.2" stroke="#171717" stroke-width="1.2"/>
<line x1="516.83" y1="524" x2="516.83" y2="526.2" stroke="#171717" stroke-width="1.2"/>
<text x="489.60" y="536.80" text-anchor="middle" font-size="9.4" font-weight="bold" font-family="Liberation Sans, sans-serif" fill="#171717" stroke="#171717" stroke-width="0.2" textLength="8.2" lengthAdjust="spacingAndGlyphs">10</text>
<text x="493.80" y="531.60" font-size="7.2" font-weight="bold" font-family="Liberation Sans, sans-serif" fill="#171717" stroke="#171717" stroke-width="0.15">2</text>
<text x="64.2" y="56.3" font-size="19.6" font-weight="bold" font-family="Liberation Sans, sans-serif" fill="#171717" stroke="#171717" stroke-width="0.25" textLength="19.8" lengthAdjust="spacingAndGlyphs" text-anchor="start" >#1</text>
<text x="228.4" y="56.0" font-size="19.6" font-weight="bold" font-family="Liberation Sans, sans-serif" fill="#171717" stroke="#171717" stroke-width="0.25" textLength="22" lengthAdjust="spacingAndGlyphs" text-anchor="start" >#2</text>
<text x="383.8" y="56.5" font-size="19.6" font-weight="bold" font-family="Liberation Sans, sans-serif" fill="#171717" stroke="#171717" stroke-width="0.1" textLength="22" lengthAdjust="spacingAndGlyphs" text-anchor="start" >#3</text>
<text x="65.4" y="330.2" font-size="19.6" font-weight="bold" font-family="Liberation Sans, sans-serif" fill="#171717" stroke="#171717" stroke-width="0.25" textLength="19.8" lengthAdjust="spacingAndGlyphs" text-anchor="start" >#1</text>
<text x="229.8" y="330.2" font-size="19.6" font-weight="bold" font-family="Liberation Sans, sans-serif" fill="#171717" stroke="#171717" stroke-width="0.1" textLength="22" lengthAdjust="spacingAndGlyphs" text-anchor="start" >#2</text>
<text x="385.6" y="330.2" font-size="19.6" font-weight="bold" font-family="Liberation Sans, sans-serif" fill="#171717" textLength="22" lengthAdjust="spacingAndGlyphs" text-anchor="start" >#3</text>
<text x="63.5" y="120.8" font-size="16.3" font-family="Liberation Sans, sans-serif" fill="#171717" stroke="#171717" stroke-width="0.75" text-anchor="start" >Normal</text>
<text x="145" y="120.8" font-size="16.3" font-family="Liberation Sans, sans-serif" fill="#171717" stroke="#171717" stroke-width="0.75" text-anchor="start" >Sickle</text>
<line x1="101.5" y1="119" x2="109.5" y2="160" stroke="#171717" stroke-width="2.1"/>
<polygon points="109.5,160 104.15,150.35 110.83,149.04" fill="#171717"/>
<line x1="148" y1="119" x2="134.5" y2="159" stroke="#171717" stroke-width="2.1"/>
<polygon points="134.5,159 134.64,147.96 141.08,150.14" fill="#171717"/>
<text x="105" y="341" font-size="16.3" font-family="Liberation Sans, sans-serif" fill="#171717" stroke="#171717" stroke-width="0.75" text-anchor="start" >Normal</text>
<text x="126.5" y="388" font-size="16.3" font-family="Liberation Sans, sans-serif" fill="#171717" stroke="#171717" stroke-width="0.75" text-anchor="start" >Sickle</text>
<line x1="108.4" y1="342.5" x2="61.5" y2="420" stroke="#171717" stroke-width="2.1"/>
<polygon points="61.5,420 64.03,409.26 69.85,412.78" fill="#171717"/>
<line x1="129.4" y1="389" x2="111.5" y2="419" stroke="#171717" stroke-width="2.1"/>
<polygon points="111.5,419 113.96,408.24 119.80,411.73" fill="#171717"/>
<text x="39.6" y="19.6" font-size="26" font-weight="bold" font-family="Liberation Sans, sans-serif" fill="#171717" stroke="#171717" stroke-width="0.5" text-anchor="start" >A</text>
<text x="40.4" y="297.7" font-size="26" font-weight="bold" font-family="Liberation Sans, sans-serif" fill="#171717" stroke="#171717" stroke-width="0.5" text-anchor="start" >B</text>
<text x="39.8" y="584.0" font-size="26.5" font-weight="bold" font-family="Liberation Sans, sans-serif" fill="#171717" stroke="#171717" stroke-width="0.5" text-anchor="start" >C</text>
<text x="92.6" y="273" font-size="20" font-family="Liberation Sans, sans-serif" fill="#171717" stroke="#171717" stroke-width="0.8" textLength="391" lengthAdjust="spacingAndGlyphs" text-anchor="start" >Monocyte IL-1β Fluorescence Intensity</text>
<text x="85" y="554.2" font-size="20" font-family="Liberation Sans, sans-serif" fill="#171717" stroke="#171717" stroke-width="0.8" textLength="405" lengthAdjust="spacingAndGlyphs" text-anchor="start" >Monocyte TNF-α Fluorescence Intensity</text>
<text transform="translate(19.7,261.3) rotate(-90)" text-anchor="middle" font-size="22.5" font-weight="bold" font-family="Liberation Sans, sans-serif" fill="#171717" stroke="#171717" stroke-width="0.3" textLength="125" lengthAdjust="spacingAndGlyphs">Cell Counts</text>
<line x1="96.5" y1="592.46" x2="96.5" y2="866.8" stroke="#171717" stroke-width="1.4"/>
<line x1="96" y1="866.2" x2="487.7" y2="866.2" stroke="#171717" stroke-width="1.4"/>
<line x1="93.2" y1="866.20" x2="96.5" y2="866.20" stroke="#171717" stroke-width="1.2"/>
<text x="85.5" y="872.10" font-size="16.5" font-weight="bold" font-family="Liberation Sans, sans-serif" fill="#171717" stroke="#171717" stroke-width="0.5" text-anchor="end" >0</text>
<line x1="93.2" y1="835.84" x2="96.5" y2="835.84" stroke="#171717" stroke-width="1.2"/>
<text x="85.5" y="841.74" font-size="16.5" font-weight="bold" font-family="Liberation Sans, sans-serif" fill="#171717" stroke="#171717" stroke-width="0.5" text-anchor="end" >2</text>
<line x1="93.2" y1="805.48" x2="96.5" y2="805.48" stroke="#171717" stroke-width="1.2"/>
<text x="85.5" y="811.38" font-size="16.5" font-weight="bold" font-family="Liberation Sans, sans-serif" fill="#171717" stroke="#171717" stroke-width="0.5" text-anchor="end" >4</text>
<line x1="93.2" y1="775.12" x2="96.5" y2="775.12" stroke="#171717" stroke-width="1.2"/>
<text x="85.5" y="781.02" font-size="16.5" font-weight="bold" font-family="Liberation Sans, sans-serif" fill="#171717" stroke="#171717" stroke-width="0.5" text-anchor="end" >6</text>
<line x1="93.2" y1="744.76" x2="96.5" y2="744.76" stroke="#171717" stroke-width="1.2"/>
<text x="85.5" y="750.66" font-size="16.5" font-weight="bold" font-family="Liberation Sans, sans-serif" fill="#171717" stroke="#171717" stroke-width="0.5" text-anchor="end" >8</text>
<line x1="93.2" y1="714.40" x2="96.5" y2="714.40" stroke="#171717" stroke-width="1.2"/>
<text x="85.5" y="720.30" font-size="16.5" font-weight="bold" font-family="Liberation Sans, sans-serif" fill="#171717" stroke="#171717" stroke-width="0.5" text-anchor="end" >10</text>
<line x1="93.2" y1="684.04" x2="96.5" y2="684.04" stroke="#171717" stroke-width="1.2"/>
<text x="85.5" y="689.94" font-size="16.5" font-weight="bold" font-family="Liberation Sans, sans-serif" fill="#171717" stroke="#171717" stroke-width="0.5" text-anchor="end" >12</text>
<line x1="93.2" y1="653.68" x2="96.5" y2="653.68" stroke="#171717" stroke-width="1.2"/>
<text x="85.5" y="659.58" font-size="16.5" font-weight="bold" font-family="Liberation Sans, sans-serif" fill="#171717" stroke="#171717" stroke-width="0.5" text-anchor="end" >14</text>
<line x1="93.2" y1="623.32" x2="96.5" y2="623.32" stroke="#171717" stroke-width="1.2"/>
<text x="85.5" y="629.22" font-size="16.5" font-weight="bold" font-family="Liberation Sans, sans-serif" fill="#171717" stroke="#171717" stroke-width="0.5" text-anchor="end" >16</text>
<line x1="93.2" y1="592.96" x2="96.5" y2="592.96" stroke="#171717" stroke-width="1.2"/>
<text x="85.5" y="598.86" font-size="16.5" font-weight="bold" font-family="Liberation Sans, sans-serif" fill="#171717" stroke="#171717" stroke-width="0.5" text-anchor="end" >18</text>
<rect x="150.3" y="715.16" width="30.0" height="151.04" fill="#fff" stroke="#171717" stroke-width="1.5"/>
<line x1="165.2" y1="691.63" x2="165.2" y2="715.16" stroke="#171717" stroke-width="2"/>
<line x1="161.0" y1="691.63" x2="169.39999999999998" y2="691.63" stroke="#171717" stroke-width="2.4"/>
<rect x="207.5" y="664.31" width="32.0" height="201.89" fill="#171717"/>
<line x1="223.5" y1="624.84" x2="223.5" y2="664.31" stroke="#171717" stroke-width="2"/>
<line x1="219.3" y1="624.84" x2="227.7" y2="624.84" stroke="#171717" stroke-width="2.4"/>
<rect x="345.3" y="781.95" width="30.0" height="84.25" fill="#fff" stroke="#171717" stroke-width="1.5"/>
<line x1="360.5" y1="762.22" x2="360.5" y2="781.95" stroke="#171717" stroke-width="2"/>
<line x1="356.3" y1="762.22" x2="364.7" y2="762.22" stroke="#171717" stroke-width="2.4"/>
<rect x="403.4" y="662.33" width="31.0" height="203.87" fill="#171717"/>
<line x1="419" y1="609.66" x2="419" y2="662.33" stroke="#171717" stroke-width="2"/>
<line x1="414.8" y1="609.66" x2="423.2" y2="609.66" stroke="#171717" stroke-width="2.4"/>
<path d="M225.40,592.60L225.40,587.40M225.40,592.60L230.35,590.99M225.40,592.60L228.46,596.81M225.40,592.60L222.34,596.81M225.40,592.60L220.45,590.99" stroke="#171717" stroke-width="3.6" stroke-linecap="round" fill="none"/>
<path d="M419.00,592.60L419.00,587.40M419.00,592.60L423.95,590.99M419.00,592.60L422.06,596.81M419.00,592.60L415.94,596.81M419.00,592.60L414.05,590.99" stroke="#171717" stroke-width="3.6" stroke-linecap="round" fill="none"/>
<rect x="262.6" y="626" width="41" height="6.6" fill="#fff" stroke="#171717" stroke-width="1.5"/>
<rect x="262" y="647" width="42" height="7.6" fill="#171717"/>
<text x="313.8" y="635.7" font-size="18" font-weight="bold" font-family="Liberation Sans, sans-serif" fill="#171717" stroke="#171717" stroke-width="0.45" text-anchor="start" >Normal</text>
<text x="313.8" y="657.0" font-size="18" font-weight="bold" font-family="Liberation Sans, sans-serif" fill="#171717" stroke="#171717" stroke-width="0.45" text-anchor="start" >Sickle</text>
<text x="175" y="892.3" font-size="20" font-weight="bold" font-family="Liberation Sans, sans-serif" fill="#171717" stroke="#171717" stroke-width="0.6" textLength="50" lengthAdjust="spacingAndGlyphs" text-anchor="start" >IL-1<tspan font-weight="normal" font-size="21">β</tspan></text>
<text x="181.5" y="918.3" font-size="19" font-weight="bold" font-family="Liberation Sans, sans-serif" fill="#171717" stroke="#171717" stroke-width="0.6" textLength="37.5" lengthAdjust="spacingAndGlyphs" text-anchor="start" >n=6</text>
<text x="356.8" y="892.6" font-size="20" font-weight="bold" font-family="Liberation Sans, sans-serif" fill="#171717" stroke="#171717" stroke-width="0.6" textLength="62" lengthAdjust="spacingAndGlyphs" text-anchor="start" >TNF-<tspan font-weight="normal" font-size="21">α</tspan></text>
<text x="368.8" y="918.3" font-size="19" font-weight="bold" font-family="Liberation Sans, sans-serif" fill="#171717" stroke="#171717" stroke-width="0.6" textLength="37.5" lengthAdjust="spacingAndGlyphs" text-anchor="start" >n=6</text>
<text x="291" y="950" font-size="25" font-weight="bold" font-family="Liberation Sans, sans-serif" fill="#171717" stroke="#171717" stroke-width="0.5" text-anchor="middle" >Cytokine</text>
<text transform="translate(23.2,729) rotate(-90)" text-anchor="middle" font-size="24" font-weight="bold" font-family="Liberation Sans, sans-serif" fill="#171717" stroke="#171717" stroke-width="0.5" textLength="153.5" lengthAdjust="spacingAndGlyphs">Monocyte Mean</text>
<text transform="translate(52.6,729.5) rotate(-90)" text-anchor="middle" font-size="24" font-weight="bold" font-family="Liberation Sans, sans-serif" fill="#171717" stroke="#171717" stroke-width="0.5" textLength="226" lengthAdjust="spacingAndGlyphs">Fluorescence Intensity</text>
</svg>
</body></html>
